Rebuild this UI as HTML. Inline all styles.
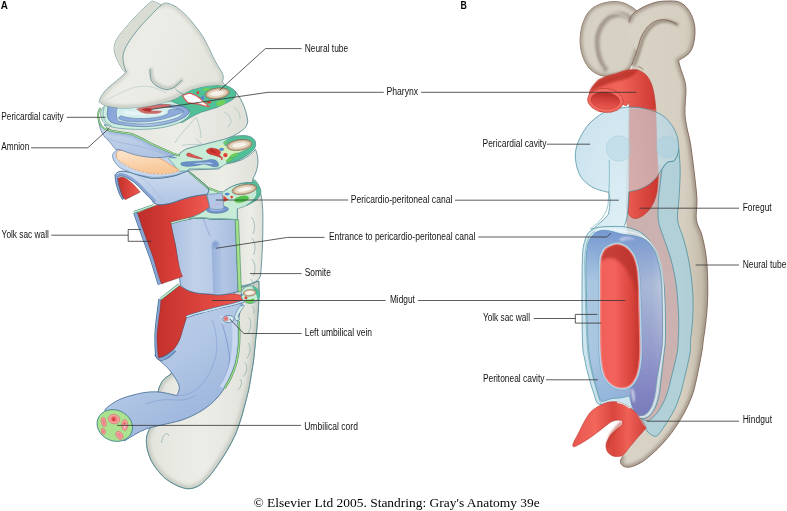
<!DOCTYPE html>
<html>
<head>
<meta charset="utf-8">
<title>Figure</title>
<style>
html,body{margin:0;padding:0;background:#fff;}
body{width:787px;height:511px;overflow:hidden;font-family:"Liberation Sans",sans-serif;}
svg{display:block;}
.lb{font-family:"Liberation Sans",sans-serif;font-size:10px;fill:#111;}
.ld{stroke:#333;stroke-width:0.8;fill:none;}
.cap{font-family:"Liberation Serif",serif;font-size:13.4px;fill:#000;}
.hd{font-family:"Liberation Sans",sans-serif;font-weight:bold;font-size:11.6px;fill:#000;}
</style>
</head>
<body>
<svg width="787" height="511" viewBox="0 0 787 511">
<defs>

<linearGradient id="gBody" x1="0" y1="0" x2="1" y2="0">
  <stop offset="0" stop-color="#d9d3c7"/><stop offset="0.72" stop-color="#d6cfc1"/><stop offset="1" stop-color="#c0b6a4"/>
</linearGradient>
<radialGradient id="gLobe" cx="0.55" cy="0.45" r="0.6">
  <stop offset="0" stop-color="#d3ccbf"/><stop offset="0.7" stop-color="#cdc6b8"/><stop offset="1" stop-color="#b4ab9c"/>
</radialGradient>
<linearGradient id="gRedB" x1="0" y1="0" x2="1" y2="0">
  <stop offset="0" stop-color="#e85a50"/><stop offset="0.45" stop-color="#f2645a"/><stop offset="1" stop-color="#c9362f"/>
</linearGradient>
<linearGradient id="gRedMid" x1="0" y1="0" x2="1" y2="0">
  <stop offset="0" stop-color="#f0605a"/><stop offset="0.35" stop-color="#f4625c"/><stop offset="0.8" stop-color="#d8443c"/><stop offset="1" stop-color="#c0342e"/>
</linearGradient>
<linearGradient id="gPurple" gradientUnits="userSpaceOnUse" x1="585" y1="0" x2="663" y2="0">
  <stop offset="0" stop-color="#abc8e2"/><stop offset="0.36" stop-color="#a5c1de"/><stop offset="0.62" stop-color="#a3b3d6"/><stop offset="0.85" stop-color="#a8b7d6"/><stop offset="1" stop-color="#bcc6de"/>
</linearGradient>
<linearGradient id="gPurpleV" gradientUnits="userSpaceOnUse" x1="0" y1="231" x2="0" y2="416">
  <stop offset="0" stop-color="#6f92cf" stop-opacity="0.85"/><stop offset="0.28" stop-color="#6f97d0" stop-opacity="0"/><stop offset="1" stop-color="#6f97d0" stop-opacity="0"/>
</linearGradient>
<linearGradient id="gPurpleD" gradientUnits="userSpaceOnUse" x1="0" y1="290" x2="0" y2="412">
  <stop offset="0" stop-color="#8486c2" stop-opacity="0"/><stop offset="0.4" stop-color="#8486c2" stop-opacity="0.45"/><stop offset="0.8" stop-color="#8284c2" stop-opacity="0.95"/><stop offset="1" stop-color="#7a7cbb" stop-opacity="1"/>
</linearGradient>
<linearGradient id="gBlueBL" gradientUnits="userSpaceOnUse" x1="0" y1="355" x2="0" y2="403">
  <stop offset="0" stop-color="#7fa6d6" stop-opacity="0"/><stop offset="1" stop-color="#7fa6d6" stop-opacity="0.5"/>
</linearGradient>
<clipPath id="clipPR"><path d="M630,225 L675,225 L675,425 L630,425 C631.5,415 631.5,405 630,396 Z"/></clipPath>
<clipPath id="clipPL"><rect x="580" y="350" width="50.5" height="60"/></clipPath>
<radialGradient id="gPeri" cx="0.45" cy="0.45" r="0.6">
  <stop offset="0" stop-color="#d6ebf3"/><stop offset="1" stop-color="#b7d7e6"/>
</radialGradient>

<linearGradient id="gA_body" x1="0" y1="0" x2="1" y2="0">
  <stop offset="0" stop-color="#e3e5dd"/><stop offset="0.5" stop-color="#ecede7"/><stop offset="1" stop-color="#dfe1d9"/>
</linearGradient>
<linearGradient id="gA_red" x1="0" y1="0" x2="1" y2="0">
  <stop offset="0" stop-color="#bd2d29"/><stop offset="0.5" stop-color="#d83e37"/><stop offset="1" stop-color="#ee5d53"/>
</linearGradient>
<linearGradient id="gA_red2" x1="0" y1="0" x2="1" y2="0">
  <stop offset="0" stop-color="#c4302c"/><stop offset="0.6" stop-color="#e04840"/><stop offset="1" stop-color="#ee5a52"/>
</linearGradient>
<linearGradient id="gA_blue" x1="0" y1="0" x2="1" y2="0">
  <stop offset="0" stop-color="#a9bfe0"/><stop offset="0.35" stop-color="#c1d1ea"/><stop offset="0.7" stop-color="#b6c9e6"/><stop offset="1" stop-color="#a6bcde"/>
</linearGradient>
<linearGradient id="gA_tube" x1="0" y1="0" x2="0.6" y2="1">
  <stop offset="0" stop-color="#c1d2ea"/><stop offset="0.55" stop-color="#b1c6e5"/><stop offset="1" stop-color="#98b2da"/>
</linearGradient>

<linearGradient id="gA_lblue" x1="0" y1="0" x2="0" y2="1">
  <stop offset="0" stop-color="#ccdbee"/><stop offset="1" stop-color="#afc4e3"/>
</linearGradient>
<linearGradient id="gA_peach" x1="0" y1="0" x2="0.3" y2="1">
  <stop offset="0" stop-color="#fde6cf"/><stop offset="1" stop-color="#f8c796"/>
</linearGradient>
<linearGradient id="gA_head" x1="0" y1="0" x2="1" y2="0.4">
  <stop offset="0" stop-color="#e2e4dc"/><stop offset="0.45" stop-color="#ecede7"/><stop offset="1" stop-color="#e4e6de"/>
</linearGradient>
<linearGradient id="gA_ring" x1="0" y1="0" x2="1" y2="0">
  <stop offset="0" stop-color="#86a3d8"/><stop offset="0.5" stop-color="#b4c7ea"/><stop offset="1" stop-color="#8aa6da"/>
</linearGradient>
<linearGradient id="gPink" gradientUnits="userSpaceOnUse" x1="660" y1="0" x2="680" y2="0">
<stop offset="0" stop-color="#d2c0bc"/><stop offset="0.5" stop-color="#c9acae"/><stop offset="1" stop-color="#c2a2a8"/></linearGradient>
<linearGradient id="gSlot" x1="0" y1="0" x2="1" y2="0"><stop offset="0" stop-color="#86a3d4"/><stop offset="0.5" stop-color="#9ab3dc"/><stop offset="1" stop-color="#adc2e4"/></linearGradient>
<!--DEFS-->
</defs>
<rect width="787" height="511" fill="#ffffff"/>


<g id="figA">
<!-- a. tail block -->
<path d="M258.8,281 C259,288 259.2,298 258.4,308 C257.6,320 256.9,329 256,336 C255.6,340.0 254.3,353.8 253.6,360.0 C252.8,366.2 252.3,368.5 251.5,373.2 C250.7,377.9 249.9,383.6 249.0,388.0 C248.1,392.4 247.4,394.8 246.2,399.6 C244.9,404.4 243.3,411.3 241.5,417.0 C239.7,422.7 238.0,428.4 235.6,434.0 C233.2,439.6 230.1,445.2 227.0,450.5 C223.9,455.8 220.1,461.4 217.2,465.7 C214.3,469.9 212.2,472.9 209.5,476.0 C206.8,479.1 203.9,482.1 201.3,484.1 C198.7,486.1 196.4,487.1 194.0,487.8 C191.6,488.6 189.5,488.9 186.8,488.6 C184.1,488.3 180.6,487.1 178.0,486.0 C175.4,484.9 173.3,483.7 171.0,482.3 C168.7,480.9 166.6,479.6 164.3,477.5 C162.0,475.4 159.2,472.4 157.0,469.5 C154.8,466.6 152.7,463.6 151.1,460.4 C149.5,457.1 148.3,453.5 147.5,450.0 C146.7,446.5 146.2,442.4 146.4,439.2 C146.6,436.0 147.7,433.0 148.5,431.0 C149.3,429.0 150.6,427.7 151.0,427.0 C154,415 156,400 159,388 C162,380 166,377 170,375 L215,310 L240,288 Z" fill="url(#gA_body)" stroke="#4b838b" stroke-width="0.8"/>
<clipPath id="clipTail"><path d="M258.8,281 C259,288 259.2,298 258.4,308 C257.6,320 256.9,329 256,336 C255.6,340.0 254.3,353.8 253.6,360.0 C252.8,366.2 252.3,368.5 251.5,373.2 C250.7,377.9 249.9,383.6 249.0,388.0 C248.1,392.4 247.4,394.8 246.2,399.6 C244.9,404.4 243.3,411.3 241.5,417.0 C239.7,422.7 238.0,428.4 235.6,434.0 C233.2,439.6 230.1,445.2 227.0,450.5 C223.9,455.8 220.1,461.4 217.2,465.7 C214.3,469.9 212.2,472.9 209.5,476.0 C206.8,479.1 203.9,482.1 201.3,484.1 C198.7,486.1 196.4,487.1 194.0,487.8 C191.6,488.6 189.5,488.9 186.8,488.6 C184.1,488.3 180.6,487.1 178.0,486.0 C175.4,484.9 173.3,483.7 171.0,482.3 C168.7,480.9 166.6,479.6 164.3,477.5 C162.0,475.4 159.2,472.4 157.0,469.5 C154.8,466.6 152.7,463.6 151.1,460.4 C149.5,457.1 148.3,453.5 147.5,450.0 C146.7,446.5 146.2,442.4 146.4,439.2 C146.6,436.0 147.7,433.0 148.5,431.0 C149.3,429.0 150.6,427.7 151.0,427.0 C154,415 156,400 159,388 C162,380 166,377 170,375 L215,310 L240,288 Z"/></clipPath>
<g clip-path="url(#clipTail)"><path d="M258.8,281 C259,288 259.2,298 258.4,308 C257.6,320 256.9,329 256,336 C255.6,340.0 254.3,353.8 253.6,360.0 C252.8,366.2 252.3,368.5 251.5,373.2 C250.7,377.9 249.9,383.6 249.0,388.0 C248.1,392.4 247.4,394.8 246.2,399.6 C244.9,404.4 243.3,411.3 241.5,417.0 C239.7,422.7 238.0,428.4 235.6,434.0 C233.2,439.6 230.1,445.2 227.0,450.5 C223.9,455.8 220.1,461.4 217.2,465.7 C214.3,469.9 212.2,472.9 209.5,476.0 C206.8,479.1 203.9,482.1 201.3,484.1 C198.7,486.1 196.4,487.1 194.0,487.8 C191.6,488.6 189.5,488.9 186.8,488.6 C184.1,488.3 180.6,487.1 178.0,486.0 C175.4,484.9 173.3,483.7 171.0,482.3 C168.7,480.9 166.6,479.6 164.3,477.5 C162.0,475.4 159.2,472.4 157.0,469.5 C154.8,466.6 152.7,463.6 151.1,460.4 C149.5,457.1 148.3,453.5 147.5,450.0 C146.7,446.5 146.2,442.4 146.4,439.2 C146.6,436.0 147.7,433.0 148.5,431.0 C149.3,429.0 150.6,427.7 151.0,427.0 C154,415 156,400 159,388 C162,380 166,377 170,375 L215,310 L240,288 Z" fill="none" stroke="#c4c9bf" stroke-width="7" filter="url(#blur2)" opacity="0.85"/></g>
<path d="M258.8,281 C259,288 259.2,298 258.4,308 C257.6,320 256.9,329 256,336 C255.6,340.0 254.3,353.8 253.6,360.0 C252.8,366.2 252.3,368.5 251.5,373.2 C250.7,377.9 249.9,383.6 249.0,388.0 C248.1,392.4 247.4,394.8 246.2,399.6 C244.9,404.4 243.3,411.3 241.5,417.0 C239.7,422.7 238.0,428.4 235.6,434.0 C233.2,439.6 230.1,445.2 227.0,450.5 C223.9,455.8 220.1,461.4 217.2,465.7 C214.3,469.9 212.2,472.9 209.5,476.0 C206.8,479.1 203.9,482.1 201.3,484.1 C198.7,486.1 196.4,487.1 194.0,487.8 C191.6,488.6 189.5,488.9 186.8,488.6 C184.1,488.3 180.6,487.1 178.0,486.0 C175.4,484.9 173.3,483.7 171.0,482.3 C168.7,480.9 166.6,479.6 164.3,477.5 C162.0,475.4 159.2,472.4 157.0,469.5 C154.8,466.6 152.7,463.6 151.1,460.4 C149.5,457.1 148.3,453.5 147.5,450.0 C146.7,446.5 146.2,442.4 146.4,439.2 C146.6,436.0 147.7,433.0 148.5,431.0 C149.3,429.0 150.6,427.7 151.0,427.0 C154,415 156,400 159,388 C162,380 166,377 170,375 L215,310 L240,288 Z" fill="none" stroke="#4b838b" stroke-width="0.8"/>
<!-- somite marks lower -->
<g fill="none" stroke="#7aa5a5" stroke-width="0.6">
<path d="M248.7,317.4 C251.5,320 251.8,328 248,333"/><path d="M248,342.8 C251,345.5 251,353.5 246.7,358.5"/><path d="M244.8,362.4 C247.8,365 247.5,372.5 242.8,376.9"/><path d="M240,379.2 C242.6,381.5 242,386.5 237.7,389.8"/><path d="M252.2,306 C254,308 254.5,311 253.5,313.5"/>
<path d="M161.5,443 C162,438 163.5,435 166,433.5 C167.5,433.5 168.5,434.5 168.7,436"/>
</g>
<!-- b. lower blue tube -->
<path d="M186.5,317 L242,301.5 L238,322 C240,335 239,350 236,362 C232,375 226,388 217,398 C208,408 196,415 182,420 C168,424 155,426 146,429 C138,432 131,437 124.2,441 L104.7,409.8 C112,402.5 121,398 131,395.6 C140,393 148,391.5 156,391.8 C163,392 170,394 176.7,395.6 C179,392 180,388 179,385.4 C177,380 174,376 171,372 C168,368 166,366 163.6,364 C160,361 157,358 154.7,355 L158.5,358 C165,356 170,352 173.8,349 C178,344 180,339 181.4,333.8 C183,328 185,322 186.5,317 Z" fill="url(#gA_tube)" stroke="#3f6a92" stroke-width="0.8"/>
<path d="M222,323.6 C225,332 228,345 229.5,356 C230,366 226,377 220,386" fill="none" stroke="#6f8fc8" stroke-width="0.7"/>
<path d="M219.6,314.7 C221,318 222,321 222,323.6 L238,322 Z" fill="#c9d8ef" opacity="0.8"/>
<path d="M176.7,395.6 C185,396 192,393 198,388 C207,380 213,368 216,355 C218,343 216,330 212,320" fill="none" stroke="#7d9bd0" stroke-width="0.7" opacity="0.8"/>
<path d="M146,404 C156,400 166,399 176,400 C184,400.5 190,399 196,395" fill="none" stroke="#6f8fc8" stroke-width="0.6" opacity="0.8"/>
<path d="M236.5,322 C238,336 237.5,351 234,364 C231,374 227,382 222.7,388 L219.5,386 C224,380 227.5,372 230,362 C232.5,350 233,336 232,323 Z" fill="#cfdcf2" opacity="0.85"/>
<!-- green amnion line along tube right -->
<path d="M238.7,321 C240,336 239.5,351 236,364 C233,374 229,382 224.7,388" fill="none" stroke="#3f8a5c" stroke-width="2.2"/>
<path d="M238.7,321 C240,336 239.5,351 236,364 C233,374 229,382 224.7,388" fill="none" stroke="#a6e08e" stroke-width="1.2"/>
<!-- cord end -->
<ellipse cx="114.8" cy="425.5" rx="18.2" ry="15.4" transform="rotate(24 114.8 425.5)" fill="#aae290" stroke="#3d7f8f" stroke-width="0.8"/>
<g stroke="#d4555a" stroke-width="0.45" fill="#f4a3a3">
<ellipse cx="114" cy="419.1" rx="5.9" ry="4.7" transform="rotate(8 114 419.1)"/>
<ellipse cx="114" cy="419.1" rx="3.6" ry="3" fill="#ec7c7e" stroke="none"/>
<ellipse cx="113.6" cy="419.2" rx="1.6" ry="1.9" fill="#e03a3c" stroke="none"/>
<ellipse cx="103.7" cy="422" rx="2.3" ry="4.8" transform="rotate(-12 103.7 422)"/>
<ellipse cx="103.7" cy="422" rx="1.1" ry="3" transform="rotate(-12 103.7 422)" fill="#e98083" stroke="none"/>
<ellipse cx="103.3" cy="431.3" rx="2" ry="3.1" transform="rotate(-15 103.3 431.3)"/>
<ellipse cx="103.3" cy="431.3" rx="0.9" ry="1.8" transform="rotate(-15 103.3 431.3)" fill="#e98083" stroke="none"/>
<ellipse cx="124.7" cy="425" rx="3.1" ry="5.5"/>
<ellipse cx="124.7" cy="425.2" rx="1.6" ry="3.6" fill="#f8c4c4" stroke="#d4555a" stroke-width="0.35"/>
<ellipse cx="124.6" cy="423.6" rx="0.9" ry="1.3" fill="#de4a4e" stroke="none"/>
<ellipse cx="119.4" cy="435.2" rx="3" ry="4.4" transform="rotate(-32 119.4 435.2)"/>
<ellipse cx="119.4" cy="435.2" rx="1.5" ry="2.7" transform="rotate(-32 119.4 435.2)" fill="#ec8a8c" stroke="none"/>
</g>
<!-- blue rim left of red midgut -->
<path d="M160.3,299.2 C159,311 156.6,324 156.4,336 C156.3,345 156.6,351 157.3,356 C158.5,358.5 161,359.3 164,358.2 C168,356.5 171.5,353.5 174.5,350" fill="none" stroke="#3f6a92" stroke-width="4"/>
<path d="M160.3,299.2 C159,311 156.6,324 156.4,336 C156.3,345 156.6,351 157.3,356 C158.5,358.5 161,359.3 164,358.2 C168,356.5 171.5,353.5 174.5,350" fill="none" stroke="#86a5d2" stroke-width="2.6"/>
<!-- red midgut -->
<path d="M161,299.4 L179,285.4 C188,291 198,294 209,294 C222,294 233,293 242.5,295.6 L245,300.7 C238,303 232,304.5 227,305.8 C218,308 209,310 201.8,312 C196,313.5 190,315 186.5,317 C185,322 183,328 181.4,333.8 C180,339 178,344 173.8,349 C170,352 165,356 158.5,358 C157.5,351 157,343 157,336 C157.5,327 159,318 160,311 Z" fill="url(#gA_red2)" stroke="#8a2a28" stroke-width="0.5"/>
<path d="M245,300.7 C238,303 232,304.5 227,305.8 C218,308 209,310 201.8,312 C196,313.5 190,315 186.5,317" fill="none" stroke="#3f6a92" stroke-width="2.6"/>
<path d="M245,300.7 C238,303 232,304.5 227,305.8 C218,308 209,310 201.8,312 C196,313.5 190,315 186.5,317" fill="none" stroke="#cfe3ee" stroke-width="1.6"/>
<!-- pale green band top-left edge of red midgut -->
<path d="M160.3,299.2 L179,284.6" fill="none" stroke="#3f8a6a" stroke-width="2.6"/>
<path d="M160.3,299.2 L179,284.6" fill="none" stroke="#c6ecd8" stroke-width="1.6"/>


<!-- c. section 4 top -->
<path d="M240.3,303.6 C242,303.4 243.6,304.4 244.2,306 C242.2,309 239.8,312.5 237.8,316 C238.8,317.4 239.4,318.7 239.5,319.8 L236,320.6 C235,319.2 234.5,317.6 234.6,316.4 C236,312.5 238,308.5 240.3,306.2 Z" fill="#d2eae8" stroke="#3f6a92" stroke-width="0.5"/>
<ellipse cx="228.4" cy="319" rx="5.8" ry="3.6" transform="rotate(-4 228.4 319)" fill="#cfe4ee" stroke="#3f6a92" stroke-width="0.6"/>
<circle cx="226" cy="318.7" r="2.2" fill="#f0a0a2" stroke="#c8474a" stroke-width="0.45"/><circle cx="226" cy="318.7" r="0.9" fill="#d8403e"/>
<ellipse cx="242.1" cy="305.2" rx="1.2" ry="0.8" transform="rotate(-40 242.1 305.2)" fill="#5a7fd0"/>
<ellipse cx="250.2" cy="294.6" rx="9.3" ry="8.8" fill="#c9edd6" stroke="#4b838b" stroke-width="0.7"/>
<path d="M252,286.2 C256,286.8 258.8,289.5 259.4,293.5 C259.6,296 259,298.5 257.8,300.3 C257,297 256.3,294 254.8,291.5 C254,289.5 253,287.6 252,286.2 Z" fill="#4fc098"/>
<path d="M246,299.4 C248.5,300.4 251.5,300 253.6,298.6 C254.6,300 254.3,301.8 252.6,302.8 C250,303.8 247.2,303.4 245.8,302 C245.3,301 245.4,300 246,299.4 Z" fill="#6fd05a" stroke="#3f9a4a" stroke-width="0.3"/>
<circle cx="245.9" cy="297.8" r="1.5" fill="#e0403a"/><ellipse cx="241.8" cy="294.9" rx="0.9" ry="1.3" fill="#5a7fd0"/>
<g transform="rotate(-6 249.7 292.8)"><ellipse cx="249.7" cy="292.8" rx="6.5" ry="3.3" fill="#c9ae92" stroke="#7d5e48" stroke-width="0.5"/><ellipse cx="249.7" cy="292.8" rx="5.1" ry="2.3" fill="#e7d8c4"/><ellipse cx="249.7" cy="292.8" rx="3.8" ry="1.5" fill="#f6f1e9"/></g>

<!-- d. slice 3 side -->
<path d="M237.6,221 L237.2,207 C242,206 247,204 251,201.8 C255.5,199.6 259,197 260.5,193 C261.8,198 262.6,205 262.9,215 C263,235 262.3,252 261.6,262 C261.2,268 260.8,272 260.4,276 C259,279 257.5,280.5 255.6,281.5 C253,283 250.5,284 248,284.7 C245.5,285.2 243.5,285.5 241.6,285.8 L240.3,288.8 Z" fill="url(#gA_body)" stroke="#4b838b" stroke-width="0.8"/>
<g fill="none" stroke="#7aa5a5" stroke-width="0.6">
<path d="M251,217 C255,220 255.5,228 253,234"/><path d="M251.5,238 C255.5,241 256,249 253.5,255"/>
<path d="M251.5,259 C255.5,262 256,270 253.5,276"/><path d="M250.5,279 C254,282 254.5,287 252.5,291"/>
</g>
<path d="M170.6,223.7 C172.2,223.2 176.9,221.8 180.0,221.0 C183.1,220.2 186.6,219.5 189.3,219.0 C192.0,218.5 193.7,218.4 196.0,218.2 C198.3,218.0 200.8,217.8 203.4,217.9 C206.0,218.0 208.5,218.8 211.6,219.0 C214.7,219.2 218.2,218.9 222.2,219.0 C226.2,219.1 233.3,219.5 235.5,219.6 C235.9,231.6 237.8,279.5 238.2,291.5 C236.5,291.9 231.4,293.4 228.0,294.0 C224.6,294.6 221.2,295.0 218.0,295.0 C214.8,295.0 212.3,294.3 209.0,294.0 C205.7,293.7 201.5,293.8 198.0,293.2 C194.5,292.6 190.9,291.8 188.0,290.5 C185.1,289.2 181.8,286.2 180.5,285.4 C180.2,283.2 179.5,276.6 179.0,272.0 C178.5,267.4 177.9,262.5 177.3,258.0 C176.7,253.5 176.0,248.8 175.3,244.9 C174.6,241.0 173.7,237.8 172.9,234.3 C172.1,230.8 171.0,225.5 170.6,223.7 Z" fill="url(#gA_blue)" stroke="#3f6a92" stroke-width="0.8"/>
<!-- entrance slot -->
<path d="M211.6,247 C211.6,243 213.6,241 216.2,241 C219,241 220.8,243 221,247 L222.6,292.8 L213.2,293.8 Z" fill="url(#gSlot)" opacity="0.65"/>
<ellipse cx="215.6" cy="244.5" rx="2.6" ry="3.4" fill="#6f8ec8" opacity="0.55" filter="url(#blur1)"/>
<path d="M203.4,218 C205,224 207.5,230 210,236" fill="none" stroke="#7d9bd0" stroke-width="0.6"/>
<!-- green strip right of blue block -->
<path d="M235.2,219.6 L238.6,219.8 L241.4,291 L238.2,292 Z" fill="#a6e08e" stroke="#3f8a5c" stroke-width="0.6"/>
<!-- pale green band on top edge of blue block -->
<path d="M170.2,222.9 C171.8,222.4 176.8,221.0 180.0,220.2 C183.2,219.4 186.6,218.7 189.3,218.2 C192.0,217.7 193.7,217.6 196.0,217.4 C198.3,217.2 200.8,217.0 203.4,217.1 C206.0,217.2 208.5,218.0 211.6,218.2 C214.7,218.4 218.0,218.1 222.2,218.2 C226.3,218.3 234.1,218.7 236.5,218.8" fill="none" stroke="#3f8a6a" stroke-width="2.6"/>
<path d="M170.2,222.9 C171.8,222.4 176.8,221.0 180.0,220.2 C183.2,219.4 186.6,218.7 189.3,218.2 C192.0,217.7 193.7,217.6 196.0,217.4 C198.3,217.2 200.8,217.0 203.4,217.1 C206.0,217.2 208.5,218.0 211.6,218.2 C214.7,218.4 218.0,218.1 222.2,218.2 C226.3,218.3 234.1,218.7 236.5,218.8" fill="none" stroke="#c6ecd8" stroke-width="1.6"/>
<!-- red yolk wall with blue rim -->
<path d="M135.4,212.6 C136.5,215.6 139.7,224.7 141.8,230.6 C143.9,236.5 146.4,242.9 148.2,248.0 C150.0,253.1 151.4,256.8 152.8,261.0 C154.2,265.2 155.3,269.1 156.5,273.0 C157.7,276.9 159.4,282.3 160.0,284.2" fill="none" stroke="#3f6a92" stroke-width="4.6"/>
<path d="M135.4,212.6 C136.5,215.6 139.7,224.7 141.8,230.6 C143.9,236.5 146.4,242.9 148.2,248.0 C150.0,253.1 151.4,256.8 152.8,261.0 C154.2,265.2 155.3,269.1 156.5,273.0 C157.7,276.9 159.4,282.3 160.0,284.2" fill="none" stroke="#86a5d2" stroke-width="3.4"/>
<path d="M137.6,212.9 C140.2,211.8 150.8,207.3 153.5,206.2 C154.6,205.9 157.0,205.0 160.0,204.4 C163.0,203.8 167.8,203.6 171.7,202.6 C175.6,201.6 179.6,199.7 183.5,198.5 C187.4,197.3 191.5,196.4 195.2,195.6 C198.9,194.8 204.0,194.1 205.8,193.8 C206.2,194.9 207.4,198.2 208.1,200.3 C208.8,202.5 209.6,205.6 209.9,206.7 C209.0,207.4 206.5,209.5 204.6,210.8 C202.7,212.1 201.2,213.2 198.7,214.3 C196.1,215.4 192.8,216.3 189.3,217.3 C185.8,218.3 180.7,219.4 177.6,220.2 C174.5,221.0 171.8,221.7 170.6,222.0 C171.0,224.1 172.1,230.5 172.9,234.3 C173.7,238.1 174.5,241.0 175.3,244.9 C176.1,248.8 176.7,253.8 177.5,258.0 C178.3,262.2 179.2,266.9 180.0,270.0 C180.8,273.1 182.1,275.4 182.5,276.5 C179.0,277.7 165.0,282.6 161.5,283.8 C160.8,281.8 158.7,276.0 157.5,272.0 C156.3,268.0 155.4,264.2 154.1,260.0 C152.8,255.8 151.2,251.9 149.4,247.0 C147.6,242.1 145.5,236.3 143.5,230.6 C141.5,224.9 138.6,215.8 137.6,212.9 Z" fill="url(#gA_red)" stroke="#8a2a28" stroke-width="0.5"/>
<path d="M134,212.2 L153.6,205.4" fill="none" stroke="#3f8a6a" stroke-width="2.4"/>
<path d="M134,212.2 L153.6,205.4" fill="none" stroke="#c6ecd8" stroke-width="1.4"/>

<!-- e. section 3 top -->
<path d="M198.7,214.3 C199.7,213.7 202.7,212.1 204.6,210.8 C206.5,209.5 209.0,207.4 209.9,206.7 C209.4,203.9 204.7,193.4 207.0,190.0 C209.3,186.6 220.8,186.7 223.5,186.0 C224.2,185.5 226.5,183.8 228.0,183.0 C229.5,182.2 230.7,181.7 232.7,181.0 C234.7,180.3 237.3,179.4 240.0,179.0 C242.7,178.6 246.2,178.3 248.7,178.5 C251.2,178.7 253.3,178.8 255.0,180.0 C256.7,181.2 258.0,184.2 259.0,186.0 C260.0,187.8 260.6,189.2 260.8,190.5 C261.1,191.8 261.1,192.5 260.5,194.0 C259.9,195.5 258.6,198.0 257.0,199.5 C255.4,201.0 253.2,202.0 251.0,203.2 C248.8,204.4 246.3,205.6 244.0,206.5 C241.7,207.4 238.3,208.5 237.2,208.9 C237.2,210.7 237.3,217.8 237.3,219.6 C234.8,219.4 226.5,218.8 222.2,218.6 C217.9,218.4 214.7,218.8 211.6,218.6 C208.5,218.4 206.0,217.6 203.4,217.5 C200.8,217.4 198.3,217.6 196.0,217.8 C193.7,218.0 190.4,218.5 189.3,218.6 C190.9,217.9 197.1,215.0 198.7,214.3 Z" fill="#c6ecd8" stroke="#4b838b" stroke-width="0.6"/>
<path d="M224.5,187.4 C227,185 229.5,183.3 232.7,181.8 C238,179.7 244,178.8 248.7,179 C254,180 257.5,182.3 258.8,186 C260.6,188.6 261,191.5 260.2,194 C258.8,198 255.5,201 251,203.2 C249.5,204 248,204.7 246.5,205.3 C251,202.5 254.8,199 256.3,195.5 C257.2,192.5 256.6,189.5 254.8,187.3 C251.5,184.6 247,183.6 242.5,183.8 C236,184.4 230,186.5 226,189.8 C225,189.2 224.5,188.3 224.5,187.4 Z" fill="#4fc098" stroke="#4b838b" stroke-width="0.45"/>
<ellipse cx="241.8" cy="199.3" rx="9" ry="4" transform="rotate(-14 241.8 199.3)" fill="#bfeab0" opacity="0.8"/><ellipse cx="241.6" cy="199.2" rx="7" ry="2.8" transform="rotate(-12 241.6 199.2)" fill="#4fc84a" stroke="#2f8a3a" stroke-width="0.4"/>
<g transform="rotate(-10 244.3 189.4)"><ellipse cx="244.3" cy="189.4" rx="12.4" ry="4.9" fill="#c9ae92" stroke="#7d5e48" stroke-width="0.6"/><ellipse cx="244.3" cy="189.4" rx="10" ry="3.6" fill="#e7d8c4"/><ellipse cx="244.3" cy="189.4" rx="7.7" ry="2.5" fill="#f6f1e9" stroke="#c4ab8e" stroke-width="0.35"/></g>
<path d="M223.3,195.2 L228.6,199.7 L223.4,202 Z" fill="#e0403a"/>
<ellipse cx="227.1" cy="194.1" rx="2.5" ry="1.4" fill="#5a86d0"/><circle cx="231.7" cy="197.1" r="1.3" fill="#e0403a"/>
<!-- ring + canal tube -->
<ellipse cx="217.5" cy="209.6" rx="11" ry="3.6" transform="rotate(-3 217.5 209.6)" fill="#7593cf" stroke="#3f6a92" stroke-width="0.5"/>
<ellipse cx="217" cy="208.6" rx="7.4" ry="2.2" transform="rotate(-3 217 208.6)" fill="#b9cbea"/>
<path d="M207,194.4 L222.2,193.2 L224,208.3 C221,209.8 213,210 209.9,208.6 Z" fill="#b3c7e8" stroke="#3f6a92" stroke-width="0.5"/>
<path d="M210.5,207.5 C214,204.5 219,203.4 224,203.8" fill="none" stroke="#d9a0a8" stroke-width="0.5" opacity="0.8"/>

<!-- f. slice 2 side -->
<!-- grey block -->
<path d="M186.9,170 L218.9,168.9 L223.5,164.3 C230,163.5 236,162 241.8,159.7 C247,157 252,154 255.5,149.4 C257.5,154 258.3,159 257.8,164.3 C257,170 255.5,174.5 253.2,178 C252.5,180 252.5,181.5 252.8,182.6 C247,182 241,183 236,184.8 C230,187 226,189.5 223.5,191.8 L218.9,191.8 L207.5,187.2 L189.2,171.8 Z" fill="url(#gA_body)" stroke="#4b838b" stroke-width="0.8"/>
<!-- light blue surface of slice 2 -->
<path d="M115.0,174.9 C115.4,174.5 116.3,173.2 117.2,172.6 C118.1,172.0 119.2,171.6 120.3,171.4 C121.4,171.2 122.6,171.2 124.0,171.3 C125.4,171.4 126.8,171.6 128.5,172.0 C130.2,172.4 132.1,173.0 134.0,173.6 C135.9,174.2 138.2,174.9 140.2,175.5 C142.2,176.1 144.0,176.7 146.0,177.2 C148.0,177.7 151.0,178.3 152.0,178.5 C153.3,178.4 157.7,178.4 160.0,178.2 C162.3,178.0 164.0,177.8 166.0,177.5 C168.0,177.2 170.0,176.8 172.0,176.4 C174.0,176.0 175.3,175.7 177.8,174.8 C180.3,173.9 185.0,171.7 186.9,171.2 C188.8,170.7 188.8,171.7 189.2,171.8 C192.2,174.4 204.5,183.4 207.5,187.2 C210.5,191.0 207.3,193.2 207.3,194.4 C205.3,194.7 199.2,195.2 195.2,196.0 C191.2,196.8 187.4,197.7 183.5,198.9 C179.6,200.1 175.6,202.0 171.7,203.0 C167.8,204.0 163.0,204.8 160.0,204.8 C157.0,204.8 154.8,203.4 153.7,203.1 C153.4,202.6 152.9,201.3 152.0,200.2 C151.1,199.1 149.7,197.8 148.5,196.6 C147.3,195.4 146.1,194.3 144.9,193.1 C143.7,191.9 142.7,190.6 141.5,189.3 C140.3,188.0 139.3,186.8 137.9,185.5 C136.5,184.2 134.8,182.8 133.2,181.6 C131.6,180.4 129.9,179.3 128.5,178.5 C127.0,177.7 125.7,177.0 124.5,176.6 C123.3,176.2 122.3,175.9 121.4,175.8 C120.5,175.7 119.7,175.9 119.0,176.2 C118.3,176.4 117.6,177.1 117.3,177.3 C117.6,178.8 118.2,182.8 119.1,186.0 C120.0,189.2 121.8,194.6 122.6,196.6 C123.4,198.6 123.8,197.9 124.0,198.2 C123.8,198.4 122.8,199.4 122.6,199.6 C122.0,198.5 120.2,195.8 119.1,193.1 C118.0,190.4 116.9,186.7 116.2,183.7 C115.5,180.7 115.2,176.4 115.0,174.9 Z" fill="url(#gA_lblue)" stroke="#3f6a92" stroke-width="0.6"/>
<clipPath id="clipP"><path d="M115.0,174.9 C115.4,174.5 116.3,173.2 117.2,172.6 C118.1,172.0 119.2,171.6 120.3,171.4 C121.4,171.2 122.6,171.2 124.0,171.3 C125.4,171.4 126.8,171.6 128.5,172.0 C130.2,172.4 132.1,173.0 134.0,173.6 C135.9,174.2 138.2,174.9 140.2,175.5 C142.2,176.1 144.0,176.7 146.0,177.2 C148.0,177.7 151.0,178.3 152.0,178.5 C153.3,178.4 157.7,178.4 160.0,178.2 C162.3,178.0 164.0,177.8 166.0,177.5 C168.0,177.2 170.0,176.8 172.0,176.4 C174.0,176.0 175.3,175.7 177.8,174.8 C180.3,173.9 185.0,171.7 186.9,171.2 C188.8,170.7 188.8,171.7 189.2,171.8 C192.2,174.4 204.5,183.4 207.5,187.2 C210.5,191.0 207.3,193.2 207.3,194.4 C205.3,194.7 199.2,195.2 195.2,196.0 C191.2,196.8 187.4,197.7 183.5,198.9 C179.6,200.1 175.6,202.0 171.7,203.0 C167.8,204.0 163.0,204.8 160.0,204.8 C157.0,204.8 154.8,203.4 153.7,203.1 C153.4,202.6 152.9,201.3 152.0,200.2 C151.1,199.1 149.7,197.8 148.5,196.6 C147.3,195.4 146.1,194.3 144.9,193.1 C143.7,191.9 142.7,190.6 141.5,189.3 C140.3,188.0 139.3,186.8 137.9,185.5 C136.5,184.2 134.8,182.8 133.2,181.6 C131.6,180.4 129.9,179.3 128.5,178.5 C127.0,177.7 125.7,177.0 124.5,176.6 C123.3,176.2 122.3,175.9 121.4,175.8 C120.5,175.7 119.7,175.9 119.0,176.2 C118.3,176.4 117.6,177.1 117.3,177.3 C117.6,178.8 118.2,182.8 119.1,186.0 C120.0,189.2 121.8,194.6 122.6,196.6 C123.4,198.6 123.8,197.9 124.0,198.2 C123.8,198.4 122.8,199.4 122.6,199.6 C122.0,198.5 120.2,195.8 119.1,193.1 C118.0,190.4 116.9,186.7 116.2,183.7 C115.5,180.7 115.2,176.4 115.0,174.9 Z"/></clipPath>
<g clip-path="url(#clipP)">
<path d="M124.0,198.6 C123.5,197.3 122.0,193.4 121.2,191.0 C120.4,188.6 119.5,186.2 118.9,184.0 C118.3,181.8 117.5,179.2 117.6,178.0 C117.6,176.8 118.6,176.9 119.2,176.6 C119.8,176.3 120.5,176.2 121.4,176.3 C122.3,176.4 123.3,176.6 124.5,177.0 C125.7,177.4 127.0,178.1 128.5,179.0 C129.9,179.9 131.6,181.0 133.2,182.2 C134.8,183.4 136.5,184.7 137.9,186.0 C139.3,187.3 140.3,188.5 141.5,189.8 C142.7,191.1 143.7,192.4 144.9,193.6 C146.1,194.8 147.3,195.8 148.5,197.0 C149.7,198.2 151.1,199.7 152.0,200.7 C152.9,201.7 153.4,202.7 153.7,203.1" fill="none" stroke="#8aa6d4" stroke-width="6.4"/>
<path d="M124.0,198.6 C123.5,197.3 122.0,193.4 121.2,191.0 C120.4,188.6 119.5,186.2 118.9,184.0 C118.3,181.8 117.5,179.2 117.6,178.0 C117.6,176.8 118.6,176.9 119.2,176.6 C119.8,176.3 120.5,176.2 121.4,176.3 C122.3,176.4 123.3,176.6 124.5,177.0 C125.7,177.4 127.0,178.1 128.5,179.0 C129.9,179.9 131.6,181.0 133.2,182.2 C134.8,183.4 136.5,184.7 137.9,186.0 C139.3,187.3 140.3,188.5 141.5,189.8 C142.7,191.1 143.7,192.4 144.9,193.6 C146.1,194.8 147.3,195.8 148.5,197.0 C149.7,198.2 151.1,199.7 152.0,200.7 C152.9,201.7 153.4,202.7 153.7,203.1" fill="none" stroke="#3f6a92" stroke-width="6.9" opacity="0.0"/>
<path d="M126,171 C134,173 144,178 150,185 C156,192 160,198 166,203" fill="none" stroke="#9fb6dc" stroke-width="0.6" opacity="0.8"/>
</g>
<!-- green amnion line slice 2 -->
<path d="M189.2,172 L207.5,187.6 L219,192.2" fill="none" stroke="#4a8a66" stroke-width="1.9"/>
<path d="M189.2,172 L207.5,187.6 L219,192.2" fill="none" stroke="#a8e290" stroke-width="1.05"/>
<!-- red interior of upper yolk piece -->
<path d="M117.9,178.5 C118.2,178.3 118.9,177.7 119.5,177.4 C120.1,177.2 120.6,176.9 121.5,177.0 C122.4,177.1 123.8,177.5 125.0,178.0 C126.2,178.5 127.3,179.3 128.5,180.2 C129.7,181.1 130.8,182.1 132.0,183.2 C133.2,184.3 134.5,185.6 135.5,186.7 C136.5,187.8 137.2,188.6 138.0,189.5 C138.8,190.4 139.8,191.6 140.2,192.0 C137.8,193.3 128.0,198.3 125.5,199.6 C125.0,199.1 123.7,198.9 122.6,196.6 C121.5,194.3 119.9,189.0 119.1,186.0 C118.3,183.0 118.1,179.8 117.9,178.5 Z" fill="url(#gA_red2)" stroke="#7a3030" stroke-width="0.5"/>
<path d="M115.0,174.9 C115.4,174.5 116.3,173.2 117.2,172.6 C118.1,172.0 119.2,171.6 120.3,171.4 C121.4,171.2 122.6,171.2 124.0,171.3 C125.4,171.4 126.8,171.6 128.5,172.0 C130.2,172.4 132.1,173.0 134.0,173.6 C135.9,174.2 138.2,174.9 140.2,175.5 C142.2,176.1 144.0,176.7 146.0,177.2 C148.0,177.7 151.0,178.3 152.0,178.5 C153.3,178.4 157.7,178.4 160.0,178.2 C162.3,178.0 164.0,177.8 166.0,177.5 C168.0,177.2 170.0,176.8 172.0,176.4 C174.0,176.0 175.3,175.7 177.8,174.8 C180.3,173.9 185.0,171.7 186.9,171.2 C188.8,170.7 188.8,171.7 189.2,171.8 C192.2,174.4 204.5,183.4 207.5,187.2 C210.5,191.0 207.3,193.2 207.3,194.4 C205.3,194.7 199.2,195.2 195.2,196.0 C191.2,196.8 187.4,197.7 183.5,198.9 C179.6,200.1 175.6,202.0 171.7,203.0 C167.8,204.0 163.0,204.8 160.0,204.8 C157.0,204.8 154.8,203.4 153.7,203.1 C153.4,202.6 152.9,201.3 152.0,200.2 C151.1,199.1 149.7,197.8 148.5,196.6 C147.3,195.4 146.1,194.3 144.9,193.1 C143.7,191.9 142.7,190.6 141.5,189.3 C140.3,188.0 139.3,186.8 137.9,185.5 C136.5,184.2 134.8,182.8 133.2,181.6 C131.6,180.4 129.9,179.3 128.5,178.5 C127.0,177.7 125.7,177.0 124.5,176.6 C123.3,176.2 122.3,175.9 121.4,175.8 C120.5,175.7 119.7,175.9 119.0,176.2 C118.3,176.4 117.6,177.1 117.3,177.3 C117.6,178.8 118.2,182.8 119.1,186.0 C120.0,189.2 121.8,194.6 122.6,196.6 C123.4,198.6 123.8,197.9 124.0,198.2 C123.8,198.4 122.8,199.4 122.6,199.6 C122.0,198.5 120.2,195.8 119.1,193.1 C118.0,190.4 116.9,186.7 116.2,183.7 C115.5,180.7 115.2,176.4 115.0,174.9 Z" fill="none" stroke="#3f6a92" stroke-width="0.6"/>

<!-- g. section 2 top -->
<!-- light-blue rim + ring around peach -->
<path d="M118.5,149.1 C118.2,149.3 117.4,149.8 116.7,150.3 C116.0,150.8 115.1,151.5 114.5,152.0 C113.9,152.5 113.5,152.6 113.2,153.2 C112.9,153.8 112.6,154.7 112.6,155.6 C112.6,156.5 112.7,157.5 113.0,158.5 C113.3,159.5 113.7,160.3 114.4,161.4 C115.1,162.5 116.0,163.7 117.0,164.8 C118.0,165.9 118.6,166.9 120.3,167.9 C122.0,168.9 124.7,170.0 127.0,171.0 C129.3,172.0 131.6,173.0 134.3,173.8 C137.0,174.6 140.1,175.2 143.0,175.8 C145.9,176.4 149.3,177.1 152.0,177.3 C154.7,177.6 156.7,177.4 159.0,177.3 C161.3,177.2 163.8,177.0 166.0,176.7 C168.2,176.4 170.0,176.1 172.0,175.7 C174.0,175.3 176.0,174.8 177.8,174.3 C179.6,173.8 181.5,173.0 183.0,172.5 C184.5,172.0 186.2,171.4 186.9,171.2 C187.3,170.8 186.4,172.4 189.4,168.8 C192.4,165.2 210.1,152.9 205.2,149.4 C200.3,145.9 174.4,148.1 160.0,148.0 C145.6,147.9 125.4,148.9 118.5,149.1 Z" fill="#c3d6ee" stroke="#3f6a92" stroke-width="0.6"/>
<!-- pale green face -->
<path d="M168.6,158.6 C170.2,157.2 171.9,153.1 178.0,150.0 C184.1,146.9 197.4,142.2 205.0,140.0 C212.6,137.8 219.3,137.6 223.5,137.0 C227.7,136.4 228.9,136.7 230.0,136.6 C230.8,136.5 232.9,136.4 234.7,136.2 C236.5,136.0 239.0,135.7 241.0,135.6 C243.0,135.5 244.9,135.5 246.7,135.8 C248.4,136.1 250.2,136.6 251.5,137.3 C252.8,138.0 253.9,139.1 254.6,140.0 C255.3,140.9 255.5,141.9 255.6,143.0 C255.7,144.1 255.7,145.4 255.3,146.7 C254.9,147.9 254.4,149.0 253.0,150.5 C251.6,152.0 248.9,154.0 246.7,155.5 C244.5,157.0 242.0,158.5 240.0,159.5 C238.0,160.5 236.9,160.9 234.7,161.6 C232.5,162.2 228.0,163.1 226.7,163.4 C225.8,164.0 223.2,166.1 221.0,167.0 C218.8,167.9 216.9,168.3 213.4,168.6 C209.9,168.9 204.0,168.8 200.0,168.8 C196.0,168.8 191.2,168.8 189.4,168.8 C189.0,169.1 188.1,170.4 187.0,170.8 C185.9,171.2 184.3,170.9 183.0,171.0 C181.7,171.1 179.6,171.2 178.9,171.2 C178.1,170.2 175.7,167.1 174.0,165.0 C172.3,162.9 169.5,159.7 168.6,158.6 Z" fill="#c6ecd8" stroke="#4b838b" stroke-width="0.6"/>
<path d="M218.7,146.7 C222,144 226,142.5 230,142.5 C240,142 250,144 251,146.5 C247,150 240,152.5 234.7,154.7 C231,157 228.5,160 226.7,163 C224,160 221.5,155 218.7,146.7 Z" fill="#d2efbc"/>
<path d="M223.5,142.5 C224.2,141.9 226.1,140.0 228.0,139.0 C229.9,138.0 232.5,137.1 234.7,136.6 C236.9,136.1 239.0,136.0 241.0,135.9 C243.0,135.8 245.0,135.8 246.7,136.1 C248.4,136.4 250.0,136.9 251.3,137.6 C252.6,138.3 253.6,139.3 254.3,140.2 C255.0,141.1 255.2,141.9 255.3,143.0 C255.4,144.1 255.4,145.5 255.0,146.7 C254.6,147.9 254.2,148.9 252.8,150.3 C251.4,151.7 248.8,153.7 246.7,155.2 C244.6,156.7 242.0,158.2 240.0,159.2 C238.0,160.2 236.9,160.7 234.7,161.3 C232.5,162.0 228.0,162.8 226.7,163.1 C227.0,162.3 227.4,159.8 228.5,158.5 C229.6,157.2 231.6,156.0 233.5,155.0 C235.4,154.0 237.9,153.3 240.0,152.4 C242.1,151.5 244.2,150.7 246.0,149.8 C247.8,148.9 249.7,147.8 250.6,146.8 C251.5,145.8 251.6,144.6 251.2,143.6 C250.8,142.6 249.6,141.6 248.0,141.0 C246.4,140.4 243.7,140.0 241.5,139.9 C239.3,139.8 236.8,140.1 234.7,140.6 C232.6,141.1 230.5,142.0 229.0,142.9 C227.5,143.8 226.1,145.5 225.5,146.0 C225.2,145.4 223.8,143.1 223.5,142.5 Z" fill="#4fc098" stroke="#4b838b" stroke-width="0.45"/>
<g transform="rotate(-8 239.4 145)"><ellipse cx="239.4" cy="145" rx="12.7" ry="5.3" fill="#c9ae92" stroke="#7d5e48" stroke-width="0.6"/><ellipse cx="239.4" cy="145" rx="10.2" ry="3.9" fill="#e7d8c4"/><ellipse cx="239.4" cy="145" rx="7.9" ry="2.7" fill="#f6f1e9" stroke="#c4ab8e" stroke-width="0.35"/></g>
<path d="M206.7,150.0 C207.4,149.7 209.4,148.2 210.7,148.0 C212.0,147.8 213.2,148.3 214.5,148.6 C215.8,148.9 217.7,149.3 218.7,150.0 C219.7,150.7 220.6,151.9 220.7,152.7 C220.8,153.5 219.3,154.1 219.4,154.7 C219.5,155.3 220.4,155.9 221.0,156.5 C221.6,157.1 222.8,157.8 222.7,158.0 C222.6,158.2 221.2,157.8 220.5,157.6 C219.8,157.4 219.7,157.1 218.7,156.7 C217.7,156.3 216.2,155.8 214.7,155.4 C213.1,155.0 210.7,154.6 209.4,154.0 C208.1,153.4 207.1,152.7 206.7,152.0 C206.2,151.3 206.7,150.3 206.7,150.0 Z" fill="#d63a35" stroke="#9a2522" stroke-width="0.4"/>
<path d="M210.5,149 C213,150 215.5,151.5 217,153.5 C215,153 212.5,152.5 210,151.5 Z" fill="#a82622" opacity="0.7"/>
<circle cx="225.4" cy="155.1" r="2.2" fill="#e0403a"/><circle cx="221.8" cy="159" r="0.9" fill="#e0403a"/>
<ellipse cx="221.6" cy="149.3" rx="2.4" ry="1.6" fill="#5a86d0"/>
<ellipse cx="234" cy="155.4" rx="4.6" ry="1.6" transform="rotate(-24 234 155.4)" fill="#6fd05a" stroke="#3f9a4a" stroke-width="0.3"/>
<ellipse cx="229.4" cy="160" rx="3.4" ry="1.2" transform="rotate(-20 229.4 160)" fill="#6fd05a" stroke="#3f9a4a" stroke-width="0.3"/>
<ellipse cx="225.6" cy="142.4" rx="2.4" ry="0.9" transform="rotate(-35 225.6 142.4)" fill="#6fd05a"/>
<path d="M186.7,154.0 C187.0,153.8 187.4,152.8 188.7,153.0 C190.0,153.2 192.4,154.5 194.7,155.4 C197.0,156.3 202.2,158.2 202.7,158.7 C203.2,159.2 199.1,158.6 197.5,158.4 C195.9,158.2 195.1,158.0 193.4,157.6 C191.7,157.2 188.5,156.6 187.4,156.0 C186.3,155.4 186.8,154.3 186.7,154.0 Z" fill="#d9534f" stroke="#a82a28" stroke-width="0.4"/>
<path d="M181.3,162.7 C182.2,162.5 185.0,161.9 187.0,161.7 C189.0,161.5 190.6,161.6 193.4,161.4 C196.2,161.2 201.1,161.0 204.0,160.7 C206.9,160.4 208.9,159.5 210.7,159.4 C212.5,159.3 213.9,159.6 215.0,160.0 C216.1,160.4 216.8,161.1 217.4,162.0 C218.0,162.9 218.8,164.6 218.7,165.4 C218.5,166.2 217.4,166.4 216.5,166.6 C215.6,166.8 214.7,166.9 213.4,166.7 C212.1,166.5 210.1,165.6 208.5,165.2 C206.9,164.8 205.7,164.0 204.0,164.0 C202.3,164.0 200.3,164.9 198.5,165.2 C196.7,165.5 195.2,165.8 193.4,166.0 C191.7,166.2 189.6,166.4 188.0,166.4 C186.4,166.4 185.2,166.3 184.0,166.0 C182.8,165.7 181.4,165.4 181.0,164.8 C180.6,164.2 181.2,163.0 181.3,162.7 Z" fill="#6a8fc6" stroke="#3f6a92" stroke-width="0.4"/>
<path d="M193,163.3 C198,162.6 204,162.4 209,162.2 C211,162.6 212.5,163.4 213,164.3 C209,163.8 205,163.6 201,163.9 C198,164.2 195.5,164.2 193,163.3 Z" fill="#b4c8ea"/>
<path d="M168,156.7 C171,156.3 174.5,156.8 177.3,158 C174,158.6 170.5,158.3 168,156.7 Z" fill="#6a8fc6"/>
<!-- peach -->
<path d="M116.2,155.0 C116.3,154.6 116.5,153.4 116.8,152.8 C117.1,152.2 117.3,151.9 117.9,151.5 C118.5,151.1 118.6,150.6 120.3,150.3 C122.0,150.1 124.7,149.8 128.0,150.0 C131.3,150.2 136.0,150.7 140.0,151.5 C144.0,152.3 148.6,153.8 152.0,155.0 C155.4,156.2 157.9,157.4 160.2,158.5 C162.4,159.6 163.8,160.4 165.5,161.5 C167.2,162.6 169.1,164.0 170.7,165.0 C172.3,166.0 173.7,166.7 175.2,167.6 C176.7,168.5 178.8,169.8 179.5,170.2 C178.8,170.5 177.1,171.5 175.4,172.0 C173.7,172.5 171.4,172.9 169.5,173.2 C167.6,173.5 165.9,173.7 163.7,173.8 C161.5,173.9 158.8,173.9 156.5,173.8 C154.2,173.7 151.9,173.5 149.6,173.2 C147.3,172.9 144.8,172.4 142.5,171.8 C140.2,171.2 137.8,170.4 135.5,169.6 C133.2,168.8 131.2,167.9 129.0,166.8 C126.8,165.7 124.2,164.2 122.6,163.2 C121.0,162.2 120.2,161.5 119.2,160.6 C118.2,159.7 117.2,158.8 116.7,157.9 C116.2,157.0 116.3,155.5 116.2,155.0 Z" fill="url(#gA_peach)" stroke="#e58c52" stroke-width="0.7"/>
<path d="M179.5,170.2 C178.8,170.5 177.1,171.5 175.4,172.0 C173.7,172.5 171.4,172.9 169.5,173.2 C167.6,173.5 165.9,173.7 163.7,173.8 C161.5,173.9 158.8,173.9 156.5,173.8 C154.2,173.7 151.9,173.5 149.6,173.2 C147.3,172.9 144.8,172.4 142.5,171.8 C140.2,171.2 137.8,170.4 135.5,169.6 C133.2,168.8 131.2,167.9 129.0,166.8 C126.8,165.7 124.2,164.2 122.6,163.2 C121.0,162.2 120.2,161.5 119.2,160.6 C118.2,159.7 117.1,158.3 116.7,157.9" fill="none" stroke="#fff" stroke-width="0.8" stroke-dasharray="2.2 1.6" opacity="0.65"/>

<!-- h. slice 1 side -->
<path d="M98.3,118.0 C98.4,118.4 98.5,119.6 98.8,120.5 C99.0,121.4 99.4,122.6 99.8,123.5 C100.2,124.4 100.9,125.2 101.4,126.0 C101.9,126.8 102.4,127.5 103.0,128.0 C103.6,128.5 104.2,128.9 105.0,129.2 C105.8,129.5 105.9,129.4 107.7,129.8 C109.5,130.2 113.9,131.2 116.0,131.6 C118.1,132.0 117.8,131.9 120.4,132.3 C123.0,132.7 128.5,133.1 131.6,133.9 C134.7,134.7 136.6,135.9 139.0,137.0 C141.4,138.1 143.8,139.3 146.0,140.5 C148.2,141.7 150.0,143.0 152.2,144.2 C154.4,145.4 156.7,146.4 159.0,147.5 C161.3,148.6 163.7,149.5 166.0,150.5 C168.3,151.5 170.5,152.5 172.8,153.3 C175.1,154.2 178.5,155.2 179.6,155.6 C178.9,155.5 176.8,154.8 175.4,154.9 C174.0,155.0 172.6,155.7 171.0,156.0 C169.4,156.3 168.0,156.7 166.0,156.9 C164.0,157.2 161.3,157.4 159.0,157.5 C156.7,157.6 154.7,157.7 152.0,157.5 C149.3,157.3 145.9,156.9 143.0,156.4 C140.1,155.9 137.0,155.3 134.3,154.6 C131.6,153.9 129.3,153.0 127.0,152.2 C124.7,151.4 122.2,150.3 120.3,149.9 C118.4,149.5 116.4,149.6 115.6,149.5 C115.2,149.0 114.1,147.7 113.2,146.5 C112.3,145.3 111.1,143.8 110.0,142.5 C108.9,141.2 107.5,139.6 106.5,138.5 C105.5,137.4 104.9,137.3 104.0,136.0 C103.1,134.7 101.8,132.5 101.0,130.5 C100.2,128.5 99.5,126.1 99.0,124.0 C98.5,121.9 98.4,119.0 98.3,118.0 Z" fill="url(#gA_lblue)" stroke="#3f6a92" stroke-width="0.6"/>
<path d="M108,131.5 C116,133 124,134 131.6,135.4 C139,138.5 146,142 152.2,145.8 C159,149 166,152 172.8,154.6" fill="none" stroke="#8ea8d6" stroke-width="3.6" opacity="0.55" filter="url(#blur1)"/>
<path d="M104,137 C112,141 124,143.5 136,145.5 C148,148 160,152.5 170,156" fill="none" stroke="#7f9cc8" stroke-width="0.5" opacity="0.7"/>
<path d="M104,124.7 L125.5,127 L156,127 L182.4,121 C185,119.5 187.5,117.7 190.5,116 C193.5,114.2 197,112.5 200.7,111 C206,109.4 211.5,107.8 217,106 C222.5,103.6 228,101 233.2,97.8 C235.5,96 236.5,93.8 235.2,91.1 C238,94.5 240.5,98.5 242.7,103.3 C245,108 246.8,114 247.8,121 C247.5,125 245.5,128 242.7,130 C239.5,132.5 236,134.5 232.5,136.3 C229,137.6 226,138.6 223,139.6 C217,141 211,142.6 204.8,144.2 C198.5,145.6 192.5,147.2 186.5,148.8 C184,150.3 181.6,151.8 179.6,153.3 L179.6,155.6 L172.8,153.3 C166,150.5 159,147.5 152.2,144.2 C146,140.5 139,137 131.6,133.9 C125,132.8 118,132 111,130.5 C108,129 106,127 104,124.7 Z" fill="url(#gA_body)" stroke="#4b838b" stroke-width="0.8"/>
<g fill="none" stroke="#8fb2b2" stroke-width="0.5">
<path d="M175,143 C176.5,140 178,138 179.6,136 C185,130 190,124 195,118"/>
<path d="M181.9,145.3 C188,144.3 196,144.5 202.5,144.2 C200,142 197.5,140 195.6,138.5"/>
<path d="M224,112 C228,113.5 231,117 231,121.5 C231,124 229.5,126 227.5,127"/><path d="M234,107 C238,110 240.5,114.5 240,119"/><path d="M196,117 C199,124 201,131 201,138"/>
</g>


<!-- i. section 1 top -->
<path d="M150,100 L176.3,92 L196.6,86 L208.8,84 L225,85 C229,86.5 233,88.6 235.2,91.1 C236.5,93.8 235.5,96.8 233.2,99.2 C228,102.5 222.5,105 217,107.4 C211.5,109.2 206,110.8 200.7,112.4 C197,114 193.5,115.7 190.5,117.5 C187.5,119.2 185,121 182.4,122.6 L160,120 Z" fill="#4fc098" stroke="#4b838b" stroke-width="0.6"/>
<!-- pale ring -->
<path d="M102.6,108.0 C102.3,108.7 101.1,110.7 100.8,112.0 C100.5,113.3 100.6,114.7 100.8,116.0 C101.0,117.3 101.3,118.3 102.0,119.6 C102.7,120.8 103.7,122.4 105.0,123.5 C106.3,124.6 107.4,125.5 110.0,126.3 C112.6,127.1 115.3,127.9 120.4,128.4 C125.5,128.9 133.9,129.5 140.7,129.4 C147.5,129.3 154.8,128.8 161.0,127.8 C167.2,126.8 173.6,124.8 177.6,123.4 C181.6,122.0 183.1,120.8 185.0,119.5 C186.9,118.2 188.1,117.0 189.0,115.8 C189.9,114.6 190.3,113.3 190.3,112.5 C190.3,111.7 190.1,111.6 189.0,110.7 C187.9,109.8 184.8,107.5 184.0,106.9 L171,101 L108,102 L102.6,108 Z" fill="#cdeee0" stroke="#4b838b" stroke-width="0.6"/>
<path d="M104.2,107 C102.8,111 102.8,115.5 104,119 C105.5,122 108,124.3 111.5,125.8" fill="none" stroke="#4b838b" stroke-width="0.5"/>
<path d="M107.2,114.4 C107.3,115.0 107.5,116.8 108.0,118.0 C108.5,119.2 109.1,120.6 110.2,121.5 C111.3,122.4 112.8,123.0 114.5,123.5 C116.2,124.0 117.8,124.2 120.4,124.6 C123.0,125.0 126.6,125.6 130.0,125.9 C133.4,126.2 137.2,126.5 140.7,126.6 C144.2,126.7 147.6,126.6 151.0,126.3 C154.4,126.0 158.1,125.5 161.0,125.0 C163.9,124.5 166.2,124.0 168.5,123.4 C170.8,122.8 172.8,122.3 175.0,121.5 C177.2,120.7 179.6,119.8 181.5,118.8 C183.4,117.8 185.2,116.8 186.5,115.8 C187.8,114.8 188.7,113.5 189.0,112.5 C189.3,111.5 189.3,110.9 188.5,110.0 C187.7,109.1 186.9,107.7 184.0,106.9 C181.1,106.1 173.3,105.3 171.2,105.0 L112,102 L108,106 L107.2,114.4 Z" fill="url(#gA_ring)" stroke="#3f6a92" stroke-width="0.6"/>
<path d="M116.3,110.3 C116.3,111.2 116.2,114.3 116.5,116.0 C116.8,117.7 117.2,119.5 117.9,120.5 C118.7,121.5 119.7,121.4 121.0,121.7 C122.3,122.0 123.5,122.2 125.5,122.5 C127.5,122.8 130.5,123.2 133.0,123.5 C135.5,123.8 137.7,124.0 140.7,124.0 C143.7,124.0 147.6,123.7 151.0,123.4 C154.4,123.1 158.1,122.5 161.0,122.0 C163.9,121.5 166.2,121.0 168.5,120.4 C170.8,119.8 173.1,119.2 175.0,118.5 C176.9,117.8 178.7,117.0 180.0,116.2 C181.3,115.4 182.4,114.4 182.8,113.5 C183.2,112.6 183.7,111.5 182.7,110.7 C181.7,109.9 178.9,108.9 177.0,108.4 C175.1,107.9 172.2,107.7 171.2,107.5 L120,104 L116.3,110.3 Z" fill="#d6eeee" stroke="#3f6a92" stroke-width="0.5"/>
<path d="M118.4,118.5 C118.9,118.8 120.3,119.6 121.5,120.0 C122.7,120.4 123.6,120.7 125.5,121.0 C127.4,121.3 130.5,121.6 133.0,121.8 C135.5,122.0 137.7,122.1 140.7,122.0 C143.7,121.9 147.6,121.7 151.0,121.3 C154.4,120.9 158.1,120.1 161.0,119.5 C163.9,118.9 166.2,118.3 168.5,117.6 C170.8,116.9 173.1,116.1 175.0,115.4 C176.9,114.7 178.7,114.2 180.0,113.6 C181.3,113.0 182.3,112.5 182.7,112.0 C183.1,111.5 182.8,110.8 182.3,110.4 C181.9,110.0 181.2,109.8 180.0,109.6 C178.8,109.4 176.5,109.2 175.0,109.2 C173.5,109.2 171.8,109.4 171.2,109.4 C170.8,109.5 169.5,109.8 169.0,110.2 C168.5,110.6 168.3,111.1 168.2,111.6 C168.1,112.1 168.2,113.1 168.2,113.4 C167.7,113.7 166.2,114.5 165.0,115.0 C163.8,115.5 163.0,115.9 161.0,116.4 C159.0,116.9 155.5,117.5 153.0,117.8 C150.5,118.1 148.3,118.4 145.8,118.5 C143.3,118.6 140.5,118.6 138.0,118.5 C135.5,118.4 132.8,118.2 130.6,117.9 C128.4,117.7 126.7,117.3 125.0,117.0 C123.3,116.7 121.5,115.7 120.4,115.9 C119.3,116.2 118.7,118.1 118.4,118.5 Z" fill="#8fabdc" stroke="#3f6a92" stroke-width="0.45"/>
<path d="M124,112 C135,114.5 150,114.8 164,112.5" fill="none" stroke="#ffffff" stroke-width="2.5" opacity="0.55" filter="url(#blur1)"/>
<!-- heart red -->
<path d="M136.7,109.3 C137.4,109.0 139.2,108.2 141.0,107.8 C142.8,107.4 145.6,107.2 147.8,106.8 C150.0,106.4 151.8,105.9 154.0,105.6 C156.2,105.2 158.9,104.9 161.0,104.7 C163.1,104.5 164.9,104.5 166.5,104.6 C168.1,104.7 170.3,104.9 170.7,105.2 C171.0,105.5 169.4,105.9 168.6,106.2 C167.8,106.5 167.6,106.5 166.0,106.8 C164.4,107.0 161.3,107.4 159.0,107.7 C156.7,108.0 153.2,108.6 152.0,108.8 C152.0,109.1 151.2,110.4 152.0,110.8 C152.8,111.2 155.4,110.9 157.0,111.0 C158.6,111.1 161.2,111.2 161.6,111.5 C162.0,111.8 160.4,112.5 159.5,112.8 C158.6,113.1 157.6,113.3 156.0,113.4 C154.4,113.5 152.0,113.6 150.0,113.5 C148.0,113.4 145.4,113.2 143.8,112.9 C142.2,112.6 141.3,112.2 140.5,111.8 C139.7,111.4 139.3,110.7 138.7,110.3 C138.1,109.9 137.0,109.5 136.7,109.3 Z" fill="#d0706c" stroke="#b04442" stroke-width="0.4"/>
<path d="M141.5,109.6 C144,108.6 147.5,108.2 151,108.4 C150.5,109.6 150.5,110.8 151,111.8 C147.5,111.8 144,111 141.5,109.6 Z" fill="#b02d2b"/>
<!-- pharynx white diamond -->
<path d="M182.6,95.5 C185,94.2 187.8,93.4 190.3,93.2 C194,94.3 197.5,96.2 200.2,98.5 C201.3,99.5 202.3,100.5 203.2,101.4 C205.2,103.2 207.2,105 209.3,106.8 C205.5,106.2 202,105.2 198.5,103.9 C195,103.8 191.5,103.4 187.9,102.6 C185.5,100.5 183.8,98 182.6,95.5 Z" fill="#ffffff" stroke="#e0504c" stroke-width="1.1" stroke-linejoin="round"/>
<g transform="rotate(-8 217.2 93.4)"><ellipse cx="217.2" cy="93.4" rx="12.2" ry="5.4" fill="#c9ae92" stroke="#7d5e48" stroke-width="0.6"/><ellipse cx="217.2" cy="93.4" rx="9.76" ry="4.00" fill="#e7d8c4"/><ellipse cx="217.2" cy="93.4" rx="7.56" ry="2.81" fill="#f6f1e9" stroke="#c4ab8e" stroke-width="0.35"/></g>
<ellipse cx="220.8" cy="102.9" rx="4.8" ry="2.6" transform="rotate(-20 220.8 102.9)" fill="#6fd05a"/>
<ellipse cx="206.1" cy="89.3" rx="3.8" ry="1.4" transform="rotate(-14 206.1 89.3)" fill="#6fd05a"/>
<ellipse cx="197.9" cy="92.6" rx="1.3" ry="1.7" fill="#e0403a"/><ellipse cx="209" cy="102.3" rx="2.4" ry="1.3" fill="#e0403a"/><circle cx="202.6" cy="97.9" r="1.8" fill="#5a86d0"/>

<path d="M100.7,108.2 C98.5,111 97.8,114 98.2,117 C98.8,120.5 99.8,123.5 101.4,126 C103,128 105,129.2 107.7,129.8 C112,130.8 116,131.6 120.4,132.3 L131.6,133.9 C139,137 146,140.5 152.2,144.2 C159,147.5 166,150.5 172.8,153.3 L179.6,155.6" fill="none" stroke="#4a8a66" stroke-width="1.9"/>
<path d="M100.7,108.2 C98.5,111 97.8,114 98.2,117 C98.8,120.5 99.8,123.5 101.4,126 C103,128 105,129.2 107.7,129.8 C112,130.8 116,131.6 120.4,132.3 L131.6,133.9 C139,137 146,140.5 152.2,144.2 C159,147.5 166,150.5 172.8,153.3 L179.6,155.6" fill="none" stroke="#a8e290" stroke-width="1.05"/>
<!-- j. head -->
<path d="M99,101.8 C100,98.5 101.5,96 103,93.6 C106,89.5 109.5,86.5 113.3,83.5 C117.5,80 122,76.5 125.5,72.3 C124,71 123,70 122.5,69.2 C119.5,64.5 117,59.5 115.4,55 C114.3,52 114,48.5 114.3,45.8 C115.5,41 118,36.5 121.5,32.6 C126,27 131,21.5 135.7,16.3 C141,10.5 146.5,5.5 152,1 C155.5,2 158.5,3.5 161.2,5 C162.5,4 164,3.3 166.2,3 C170,3.8 173.5,5.2 176.4,7 C181.5,11 186.5,15.5 190.7,20.4 C195,25.5 199.2,31 202.9,36.6 C206.5,43 210,50 213,57 C215.5,62 218.5,67 221.2,71.2 C222.3,73 223,74.7 223.2,76.3 C223.4,78 223,79.8 222.2,81.4 C223,83 224,84.5 225.3,85.5 C219,84.6 214,84.8 209.6,85.4 C204,86.2 198,87.5 191.8,89.5 C187,91.5 182,94.5 177.8,97.5 C173,100 167,102 161.2,103.2 C154,105 147,106.3 141,106.9 C134,107.8 127,108.2 120.5,108 C115,107.6 110,106.8 105.3,105.6 C103,104.6 101,103.3 99,101.8 Z" fill="url(#gA_head)" stroke="#4b838b" stroke-width="0.8"/>
<clipPath id="clipHead"><path d="M99,101.8 C100,98.5 101.5,96 103,93.6 C106,89.5 109.5,86.5 113.3,83.5 C117.5,80 122,76.5 125.5,72.3 C124,71 123,70 122.5,69.2 C119.5,64.5 117,59.5 115.4,55 C114.3,52 114,48.5 114.3,45.8 C115.5,41 118,36.5 121.5,32.6 C126,27 131,21.5 135.7,16.3 C141,10.5 146.5,5.5 152,1 C155.5,2 158.5,3.5 161.2,5 C162.5,4 164,3.3 166.2,3 C170,3.8 173.5,5.2 176.4,7 C181.5,11 186.5,15.5 190.7,20.4 C195,25.5 199.2,31 202.9,36.6 C206.5,43 210,50 213,57 C215.5,62 218.5,67 221.2,71.2 C222.3,73 223,74.7 223.2,76.3 C223.4,78 223,79.8 222.2,81.4 C223,83 224,84.5 225.3,85.5 C219,84.6 214,84.8 209.6,85.4 C204,86.2 198,87.5 191.8,89.5 C187,91.5 182,94.5 177.8,97.5 C173,100 167,102 161.2,103.2 C154,105 147,106.3 141,106.9 C134,107.8 127,108.2 120.5,108 C115,107.6 110,106.8 105.3,105.6 C103,104.6 101,103.3 99,101.8 Z"/></clipPath>
<g clip-path="url(#clipHead)">
<path d="M99,101.8 C100,98.5 101.5,96 103,93.6 C106,89.5 109.5,86.5 113.3,83.5 C117.5,80 122,76.5 125.5,72.3 C124,71 123,70 122.5,69.2 C119.5,64.5 117,59.5 115.4,55 C114.3,52 114,48.5 114.3,45.8 C115.5,41 118,36.5 121.5,32.6 C126,27 131,21.5 135.7,16.3 C141,10.5 146.5,5.5 152,1 C155.5,2 158.5,3.5 161.2,5 C162.5,4 164,3.3 166.2,3 C170,3.8 173.5,5.2 176.4,7 C181.5,11 186.5,15.5 190.7,20.4 C195,25.5 199.2,31 202.9,36.6 C206.5,43 210,50 213,57 C215.5,62 218.5,67 221.2,71.2 C222.3,73 223,74.7 223.2,76.3 C223.4,78 223,79.8 222.2,81.4 C223,83 224,84.5 225.3,85.5 C219,84.6 214,84.8 209.6,85.4 C204,86.2 198,87.5 191.8,89.5 C187,91.5 182,94.5 177.8,97.5 C173,100 167,102 161.2,103.2 C154,105 147,106.3 141,106.9 C134,107.8 127,108.2 120.5,108 C115,107.6 110,106.8 105.3,105.6 C103,104.6 101,103.3 99,101.8 Z" fill="none" stroke="#c9cdc4" stroke-width="6" filter="url(#blur2)" opacity="0.7"/>
<path d="M152,1 C146.5,5.5 141,10.5 135.7,16.3 C131,21.5 126,27 121.5,32.6 C118,36.5 115.5,41 114.3,45.8 C114,48.5 114.3,52 115.4,55 C117,59.5 119.5,64.5 122.5,69.2 L126.6,72.3 C125,69 124,66 123.5,63.1 C122.8,59.5 122.8,56 123.5,52.9 C125,48.5 127,44.5 129.6,40.7 C134.5,33.5 140,26.5 145.9,20.4 C151,15 156,10 161.2,5 C158.5,3.5 155.5,2 152,1 Z" fill="#d8dcd3"/>
<path d="M150,69.2 C150,73 150.3,76.5 151,79.4 C152,82 153.8,84 156,85.5 C159,87.5 162.5,88.8 166.2,89.6 C169,89.6 172,88.6 174.6,87 C177,85.2 179.5,82.6 181.9,80.3" fill="none" stroke="#c3c8bf" stroke-width="3" filter="url(#blur1)" transform="translate(1,-1.5)"/>
<path d="M99,101.8 C105,106 118,109 141,107 C160,104 175,99 192,89.5 C205,85 215,84.5 225,85.5" fill="none" stroke="#cdd1c8" stroke-width="4" filter="url(#blur1)"/>
</g>
<g fill="none" stroke="#4b838b" stroke-width="0.7">
<path d="M161.2,5 C156,10 151,15 145.9,20.4 C140,26.5 134.5,33.5 129.6,40.7 C127,44.5 125,48.5 123.5,52.9 C122.8,56 122.8,59.5 123.5,63.1 C124,66 125,69 126.6,72.3"/>
<path d="M150,69.2 C150,73 150.3,76.5 151,79.4 C152,82 153.8,84 156,85.5 C159,87.5 162.5,88.8 166.2,89.6 C169,89.6 172,88.6 174.6,87 C177,85.2 179.5,82.6 181.9,80.3"/>
<path d="M175.4,89 C178,91.5 181,93.5 184.6,94.7" stroke-width="0.6"/>

<path d="M105,100.8 C114,96 124,91 133.7,87.5 C139,86.3 145,86 150,86.5 C156,88 161,90 166.2,92.6" stroke="#a8c4c4" stroke-width="0.5"/>
</g>


</g>



<g id="figB">
<filter id="blur1" x="-20%" y="-20%" width="140%" height="140%"><feGaussianBlur stdDeviation="1.1"/></filter>
<filter id="blur2" x="-20%" y="-20%" width="140%" height="140%"><feGaussianBlur stdDeviation="1.8"/></filter>
<!-- left lobe -->
<path d="M636.8,10.8 C635.5,9.8 634.5,9 633.6,8.3 C631,6.5 628.5,5 626,3.8 C622,2.2 618,1.6 614.5,1.5 C610.5,1.6 606.5,2.2 603,3.2 C598.5,4.5 594.5,6.5 591.6,8.9 C588,12 585.5,16 584,20.4 C582.3,24 581.3,28 580.8,31.8 C580.2,36 580,40 580.2,43.3 C580.5,49 581.8,54 583.5,58.5 C585,62.5 587.5,66.5 590.5,69.5 C593,72 596.5,74 600,75.2 C603.5,76.2 607,76.5 610,76.3 C614,76.2 619,75.6 622.6,74.6 C626,73 629,70 630.6,66.7 C631.2,66 631.5,65.5 631.8,64.9 C633,61 635,56 636.9,50.9 C638.5,46.5 639.8,42 640.7,38.2 L640.7,25 Z" fill="#d7d1c5" stroke="#7a5c4e" stroke-width="0.8"/>
<clipPath id="clipLobe"><path d="M636.8,10.8 C635.5,9.8 634.5,9 633.6,8.3 C631,6.5 628.5,5 626,3.8 C622,2.2 618,1.6 614.5,1.5 C610.5,1.6 606.5,2.2 603,3.2 C598.5,4.5 594.5,6.5 591.6,8.9 C588,12 585.5,16 584,20.4 C582.3,24 581.3,28 580.8,31.8 C580.2,36 580,40 580.2,43.3 C580.5,49 581.8,54 583.5,58.5 C585,62.5 587.5,66.5 590.5,69.5 C593,72 596.5,74 600,75.2 C603.5,76.2 607,76.5 610,76.3 C614,76.2 619,75.6 622.6,74.6 C626,73 629,70 630.6,66.7 C631.2,66 631.5,65.5 631.8,64.9 C633,61 635,56 636.9,50.9 C638.5,46.5 639.8,42 640.7,38.2 L640.7,25 Z"/></clipPath>
<g clip-path="url(#clipLobe)">
  <path d="M636.8,10.8 C635.5,9.8 634.5,9 633.6,8.3 C631,6.5 628.5,5 626,3.8 C622,2.2 618,1.6 614.5,1.5 C610.5,1.6 606.5,2.2 603,3.2 C598.5,4.5 594.5,6.5 591.6,8.9 C588,12 585.5,16 584,20.4 C582.3,24 581.3,28 580.8,31.8 C580.2,36 580,40 580.2,43.3 C580.5,49 581.8,54 583.5,58.5 C585,62.5 587.5,66.5 590.5,69.5 C593,72 596.5,74 600,75.2 C603.5,76.2 607,76.5 610,76.3 C614,76.2 619,75.6 622.6,74.6 C626,73 629,70 630.6,66.7 C631.2,66 631.5,65.5 631.8,64.9 C633,61 635,56 636.9,50.9 C638.5,46.5 639.8,42 640.7,38.2 L640.7,25 Z" fill="none" stroke="#a39988" stroke-width="5" filter="url(#blur2)" opacity="0.8"/>
  <path d="M629,18.5 C624,14.5 619,13 614.5,13.4 C611,13.8 608,14.8 605.6,16.5 C602.5,19 600,22 598,25.4 C595.8,29.5 594.5,33.5 594,38 C593.7,43 594.2,48.5 595.4,53.4 C596.3,57.5 597.5,61 599,63.6 C600.5,66 602,68 604,69.5" fill="none" stroke="#a1978a" stroke-width="5" filter="url(#blur2)" transform="translate(3,1)"/>
  <path d="M629,18.5 C624,14.5 619,13 614.5,13.4 C611,13.8 608,14.8 605.6,16.5 C602.5,19 600,22 598,25.4 C595.8,29.5 594.5,33.5 594,38 C593.7,43 594.2,48.5 595.4,53.4 C596.3,57.5 597.5,61 599,63.6 C600.5,66 602,68 604,69.5" fill="none" stroke="#dcd6ca" stroke-width="1.6" filter="url(#blur1)" transform="translate(-1.2,-0.4)"/>
</g>
<!-- body -->
<path d="M628.6,22.3 C629.2,21.1 630.6,16.9 632.0,15.0 C633.4,13.1 635.0,12.1 636.9,10.8 C638.8,9.5 640.3,8.4 643.3,7.0 C646.3,5.6 650.9,3.5 654.7,2.5 C658.5,1.5 662.0,1.1 666.0,1.0 C670.0,0.9 675.3,0.6 678.9,1.9 C682.5,3.2 685.4,5.8 687.8,8.9 C690.2,12.0 692.3,16.4 693.5,20.4 C694.7,24.4 695.1,28.7 695.0,33.0 C694.9,37.3 693.9,42.9 692.9,46.3 C691.9,49.7 690.6,51.4 688.9,53.4 C687.2,55.4 684.4,56.8 682.7,58.0 C681.0,59.2 679.2,60.1 678.5,60.5 C678.9,61.9 679.7,65.3 680.7,68.7 C681.8,72.1 683.9,77.4 684.8,80.9 C685.7,84.5 685.9,86.5 686.0,90.0 C686.1,93.5 685.5,97.8 685.3,102.0 C685.1,106.2 684.7,110.7 685.0,115.0 C685.3,119.3 686.2,123.7 687.0,128.0 C687.8,132.3 689.0,135.7 690.0,141.0 C691.0,146.3 691.9,153.7 692.7,160.0 C693.5,166.3 694.3,172.3 695.0,179.0 C695.7,185.7 696.8,193.2 697.0,200.0 C697.2,206.8 695.6,214.3 696.4,220.0 C697.2,225.7 700.1,228.9 701.6,234.0 C703.1,239.1 704.4,245.4 705.3,250.5 C706.2,255.6 706.6,259.5 707.0,264.6 C707.4,269.7 707.6,275.5 707.7,281.0 C707.8,286.5 707.9,292.0 707.7,297.5 C707.5,303.0 707.2,308.5 706.7,314.0 C706.2,319.5 705.3,326.1 704.8,330.4 C704.2,334.7 703.9,335.9 703.4,339.8 C702.9,343.7 702.8,346.8 701.6,353.5 C700.4,360.2 697.8,373.2 696.3,380.0 C694.8,386.8 694.2,389.6 692.7,394.0 C691.2,398.4 689.5,402.1 687.5,406.4 C685.5,410.7 683.0,415.2 680.4,419.6 C677.8,424.0 674.5,428.8 671.6,432.8 C668.7,436.8 665.7,440.2 662.8,443.4 C659.9,446.6 657.2,449.3 654.0,452.2 C650.8,455.1 647.0,458.6 643.5,461.0 C640.0,463.4 635.9,465.3 632.9,466.3 C629.9,467.3 627.7,467.4 625.8,467.1 C623.9,466.8 622.3,465.7 621.4,464.5 C620.5,463.3 620.3,461.6 620.6,460.1 C620.9,458.6 622.8,456.4 623.2,455.7 L632,440 L628,300 L626,200 L628,110 L631.8,64.9 C633,61 635,56 636.9,50.9 L630,40 Z" fill="url(#gBody)"/>
<clipPath id="clipBody"><path d="M628.6,22.3 C629.2,21.1 630.6,16.9 632.0,15.0 C633.4,13.1 635.0,12.1 636.9,10.8 C638.8,9.5 640.3,8.4 643.3,7.0 C646.3,5.6 650.9,3.5 654.7,2.5 C658.5,1.5 662.0,1.1 666.0,1.0 C670.0,0.9 675.3,0.6 678.9,1.9 C682.5,3.2 685.4,5.8 687.8,8.9 C690.2,12.0 692.3,16.4 693.5,20.4 C694.7,24.4 695.1,28.7 695.0,33.0 C694.9,37.3 693.9,42.9 692.9,46.3 C691.9,49.7 690.6,51.4 688.9,53.4 C687.2,55.4 684.4,56.8 682.7,58.0 C681.0,59.2 679.2,60.1 678.5,60.5 C678.9,61.9 679.7,65.3 680.7,68.7 C681.8,72.1 683.9,77.4 684.8,80.9 C685.7,84.5 685.9,86.5 686.0,90.0 C686.1,93.5 685.5,97.8 685.3,102.0 C685.1,106.2 684.7,110.7 685.0,115.0 C685.3,119.3 686.2,123.7 687.0,128.0 C687.8,132.3 689.0,135.7 690.0,141.0 C691.0,146.3 691.9,153.7 692.7,160.0 C693.5,166.3 694.3,172.3 695.0,179.0 C695.7,185.7 696.8,193.2 697.0,200.0 C697.2,206.8 695.6,214.3 696.4,220.0 C697.2,225.7 700.1,228.9 701.6,234.0 C703.1,239.1 704.4,245.4 705.3,250.5 C706.2,255.6 706.6,259.5 707.0,264.6 C707.4,269.7 707.6,275.5 707.7,281.0 C707.8,286.5 707.9,292.0 707.7,297.5 C707.5,303.0 707.2,308.5 706.7,314.0 C706.2,319.5 705.3,326.1 704.8,330.4 C704.2,334.7 703.9,335.9 703.4,339.8 C702.9,343.7 702.8,346.8 701.6,353.5 C700.4,360.2 697.8,373.2 696.3,380.0 C694.8,386.8 694.2,389.6 692.7,394.0 C691.2,398.4 689.5,402.1 687.5,406.4 C685.5,410.7 683.0,415.2 680.4,419.6 C677.8,424.0 674.5,428.8 671.6,432.8 C668.7,436.8 665.7,440.2 662.8,443.4 C659.9,446.6 657.2,449.3 654.0,452.2 C650.8,455.1 647.0,458.6 643.5,461.0 C640.0,463.4 635.9,465.3 632.9,466.3 C629.9,467.3 627.7,467.4 625.8,467.1 C623.9,466.8 622.3,465.7 621.4,464.5 C620.5,463.3 620.3,461.6 620.6,460.1 C620.9,458.6 622.8,456.4 623.2,455.7 L632,440 L628,300 L626,200 L628,110 L631.8,64.9 C633,61 635,56 636.9,50.9 L630,40 Z"/></clipPath>
<g clip-path="url(#clipBody)">
  <path d="M628.6,22.3 C629.2,21.1 630.6,16.9 632.0,15.0 C633.4,13.1 635.0,12.1 636.9,10.8 C638.8,9.5 640.3,8.4 643.3,7.0 C646.3,5.6 650.9,3.5 654.7,2.5 C658.5,1.5 662.0,1.1 666.0,1.0 C670.0,0.9 675.3,0.6 678.9,1.9 C682.5,3.2 685.4,5.8 687.8,8.9 C690.2,12.0 692.3,16.4 693.5,20.4 C694.7,24.4 695.1,28.7 695.0,33.0 C694.9,37.3 693.9,42.9 692.9,46.3 C691.9,49.7 690.6,51.4 688.9,53.4 C687.2,55.4 684.4,56.8 682.7,58.0 C681.0,59.2 679.2,60.1 678.5,60.5 C678.9,61.9 679.7,65.3 680.7,68.7 C681.8,72.1 683.9,77.4 684.8,80.9 C685.7,84.5 685.9,86.5 686.0,90.0 C686.1,93.5 685.5,97.8 685.3,102.0 C685.1,106.2 684.7,110.7 685.0,115.0 C685.3,119.3 686.2,123.7 687.0,128.0 C687.8,132.3 689.0,135.7 690.0,141.0 C691.0,146.3 691.9,153.7 692.7,160.0 C693.5,166.3 694.3,172.3 695.0,179.0 C695.7,185.7 696.8,193.2 697.0,200.0 C697.2,206.8 695.6,214.3 696.4,220.0 C697.2,225.7 700.1,228.9 701.6,234.0 C703.1,239.1 704.4,245.4 705.3,250.5 C706.2,255.6 706.6,259.5 707.0,264.6 C707.4,269.7 707.6,275.5 707.7,281.0 C707.8,286.5 707.9,292.0 707.7,297.5 C707.5,303.0 707.2,308.5 706.7,314.0 C706.2,319.5 705.3,326.1 704.8,330.4 C704.2,334.7 703.9,335.9 703.4,339.8 C702.9,343.7 702.8,346.8 701.6,353.5 C700.4,360.2 697.8,373.2 696.3,380.0 C694.8,386.8 694.2,389.6 692.7,394.0 C691.2,398.4 689.5,402.1 687.5,406.4 C685.5,410.7 683.0,415.2 680.4,419.6 C677.8,424.0 674.5,428.8 671.6,432.8 C668.7,436.8 665.7,440.2 662.8,443.4 C659.9,446.6 657.2,449.3 654.0,452.2 C650.8,455.1 647.0,458.6 643.5,461.0 C640.0,463.4 635.9,465.3 632.9,466.3 C629.9,467.3 627.7,467.4 625.8,467.1 C623.9,466.8 622.3,465.7 621.4,464.5 C620.5,463.3 620.3,461.6 620.6,460.1 C620.9,458.6 622.8,456.4 623.2,455.7" fill="none" stroke="#a2988a" stroke-width="6" filter="url(#blur2)" opacity="0.85"/>
  <!-- soft shadow along crease -->
  <path d="M676.3,24.2 C672.5,21.5 668,20 663.6,19.7 C660,19.7 656.5,20.6 653.4,22.3 C650.5,24 648,26.3 645.8,29.3 C643.8,32 642,35 640.7,38.2 C639.5,42 638.3,46.5 636.9,50.9 C635.5,55.5 634,60 631.8,64.9" fill="none" stroke="#9c9282" stroke-width="3.4" filter="url(#blur1)" transform="translate(2,1.2)"/>
</g>
<path d="M628.6,22.3 C629.2,21.1 630.6,16.9 632.0,15.0 C633.4,13.1 635.0,12.1 636.9,10.8 C638.8,9.5 640.3,8.4 643.3,7.0 C646.3,5.6 650.9,3.5 654.7,2.5 C658.5,1.5 662.0,1.1 666.0,1.0 C670.0,0.9 675.3,0.6 678.9,1.9 C682.5,3.2 685.4,5.8 687.8,8.9 C690.2,12.0 692.3,16.4 693.5,20.4 C694.7,24.4 695.1,28.7 695.0,33.0 C694.9,37.3 693.9,42.9 692.9,46.3 C691.9,49.7 690.6,51.4 688.9,53.4 C687.2,55.4 684.4,56.8 682.7,58.0 C681.0,59.2 679.2,60.1 678.5,60.5 C678.9,61.9 679.7,65.3 680.7,68.7 C681.8,72.1 683.9,77.4 684.8,80.9 C685.7,84.5 685.9,86.5 686.0,90.0 C686.1,93.5 685.5,97.8 685.3,102.0 C685.1,106.2 684.7,110.7 685.0,115.0 C685.3,119.3 686.2,123.7 687.0,128.0 C687.8,132.3 689.0,135.7 690.0,141.0 C691.0,146.3 691.9,153.7 692.7,160.0 C693.5,166.3 694.3,172.3 695.0,179.0 C695.7,185.7 696.8,193.2 697.0,200.0 C697.2,206.8 695.6,214.3 696.4,220.0 C697.2,225.7 700.1,228.9 701.6,234.0 C703.1,239.1 704.4,245.4 705.3,250.5 C706.2,255.6 706.6,259.5 707.0,264.6 C707.4,269.7 707.6,275.5 707.7,281.0 C707.8,286.5 707.9,292.0 707.7,297.5 C707.5,303.0 707.2,308.5 706.7,314.0 C706.2,319.5 705.3,326.1 704.8,330.4 C704.2,334.7 703.9,335.9 703.4,339.8 C702.9,343.7 702.8,346.8 701.6,353.5 C700.4,360.2 697.8,373.2 696.3,380.0 C694.8,386.8 694.2,389.6 692.7,394.0 C691.2,398.4 689.5,402.1 687.5,406.4 C685.5,410.7 683.0,415.2 680.4,419.6 C677.8,424.0 674.5,428.8 671.6,432.8 C668.7,436.8 665.7,440.2 662.8,443.4 C659.9,446.6 657.2,449.3 654.0,452.2 C650.8,455.1 647.0,458.6 643.5,461.0 C640.0,463.4 635.9,465.3 632.9,466.3 C629.9,467.3 627.7,467.4 625.8,467.1 C623.9,466.8 622.3,465.7 621.4,464.5 C620.5,463.3 620.3,461.6 620.6,460.1 C620.9,458.6 622.8,456.4 623.2,455.7" fill="none" stroke="#7a5c4e" stroke-width="0.8"/>
<path d="M676.3,24.2 C672.5,21.5 668,20 663.6,19.7 C660,19.7 656.5,20.6 653.4,22.3 C650.5,24 648,26.3 645.8,29.3 C643.8,32 642,35 640.7,38.2 C639.5,42 638.3,46.5 636.9,50.9 C635.5,55.5 634,60 631.8,64.9" fill="none" stroke="#7a5c4e" stroke-width="0.8"/>
<path d="M637.7,66.7 C640,66.6 642,68 643.3,70" fill="none" stroke="#7a5c4e" stroke-width="0.7"/>

<!-- gut tube pinkish strip behind cavities -->
<path d="M655,160 L662.5,168 L660.5,186 L660,194 L654,194 Z" fill="#cbb2b0"/>
<path d="M627.0,192.0 C632.5,192.0 654.5,192.0 660.0,192.0 C659.8,193.3 658.8,195.3 658.5,200.0 C658.2,204.7 657.7,214.3 658.3,220.0 C658.9,225.7 660.6,228.9 662.3,234.0 C663.9,239.1 666.4,245.0 668.2,250.5 C670.0,256.0 671.5,261.1 672.9,267.0 C674.3,272.9 675.5,279.5 676.4,285.8 C677.2,292.1 677.6,298.3 678.0,304.6 C678.4,310.9 678.8,317.5 678.8,323.4 C678.8,329.3 678.6,334.8 678.3,339.8 C678.0,344.8 678.3,346.8 677.0,353.5 C675.7,360.2 672.5,372.9 670.7,380.0 C668.9,387.1 668.2,390.8 666.3,395.8 C664.4,400.8 661.6,406.3 659.3,410.0 C657.0,413.7 654.2,415.9 652.3,417.9 C650.4,419.9 648.7,421.3 648.0,422.0 C645.7,420.7 635.3,434.3 634.0,414.0 C632.7,393.7 641.2,330.7 640.0,300.0 C638.8,269.3 629.2,248.0 627.0,230.0 C624.8,212.0 627.0,198.3 627.0,192.0 Z" fill="#cbb2b0"/>

<!-- pharynx / foregut red tube -->
<path d="M589.6,91.6 C592,87 595,83 598.5,80 C604,77 610,75.2 616,73.8 C620.5,72 625,70.5 629,70 C632,69.7 635,69.6 638,70 C642,71.5 645,73.5 647,76 C650,80 652,84.5 653,89 C654.5,96 655.4,102 655.8,109 L657,150 L658.3,174 C658,181 657.5,187 657,191.8 C655.5,199 653,205 649.4,209.6 C645.5,214.5 641,217.5 636.7,218.5 C632,218.8 629,216 627.8,212 L629,191.8 L629.6,109.4 C629.6,106.5 629.3,104 629,101.8 C628,104 627,105.5 626.5,105.6 C625,105.5 623.5,105 622.7,104.3 L600,112 L589,100 Z" fill="url(#gRedB)" stroke="#b83a30" stroke-width="0.6"/>
<path d="M589.6,91.6 C592,87 595,83 598.5,80 C604,77 610,75.2 616,73.8 C620.5,72 625,70.5 629,70 C632,69.7 635,69.6 638,70 C636,74 630,78 622,80 C612,82 600,86 589.6,91.6 Z" fill="#b02a24" opacity="0.7" filter="url(#blur1)"/>
</g>

<g id="figB2">
<path d="M678.7,148.5 C678.9,151.2 679.8,159.9 680.0,165.0 C680.2,170.1 680.2,173.2 680.0,179.0 C679.8,184.8 679.3,193.2 678.9,200.0 C678.5,206.8 676.8,213.5 677.6,220.0 C678.4,226.5 681.7,232.5 683.5,238.8 C685.3,245.1 686.9,251.3 688.2,257.6 C689.5,263.9 690.4,270.1 691.2,276.4 C692.0,282.7 692.6,288.9 692.9,295.2 C693.2,301.5 693.1,308.1 692.9,314.0 C692.7,319.9 692.1,326.1 691.7,330.4 C691.3,334.7 690.8,335.9 690.5,339.8 C690.2,343.7 691.0,346.8 689.9,353.5 C688.8,360.2 685.6,373.2 684.0,380.0 C682.4,386.8 681.9,389.3 680.4,394.0 C678.9,398.7 677.1,403.8 675.1,408.2 C673.1,412.6 670.4,416.7 668.1,420.5 C665.8,424.3 663.0,428.4 661.1,431.0 C659.2,433.6 658.2,435.2 656.7,436.0 C655.2,436.8 653.0,435.6 652.3,435.5 C651.6,434.9 649.4,433.8 647.9,432.0 C646.4,430.2 645.0,427.2 643.5,424.9 C642.0,422.5 639.8,419.1 639.0,417.9 C639.8,418.2 642.5,419.5 644.0,420.0 C645.5,420.5 647.3,420.8 648.0,421.0 C648.7,420.5 650.4,419.7 652.3,417.9 C654.2,416.1 657.0,413.7 659.3,410.0 C661.6,406.3 664.4,400.8 666.3,395.8 C668.2,390.8 668.9,387.1 670.7,380.0 C672.5,372.9 675.7,360.2 677.0,353.5 C678.3,346.8 678.0,344.8 678.3,339.8 C678.6,334.8 678.8,329.3 678.8,323.4 C678.8,317.5 678.4,310.9 678.0,304.6 C677.6,298.3 677.2,292.1 676.4,285.8 C675.5,279.5 674.3,272.9 672.9,267.0 C671.5,261.1 670.0,256.0 668.2,250.5 C666.4,245.0 663.9,239.1 662.3,234.0 C660.6,228.9 658.9,225.7 658.3,220.0 C657.7,214.3 658.2,205.8 658.5,200.0 C658.8,194.2 659.4,190.2 660.0,185.0 C660.6,179.8 661.7,171.7 662.0,169.0 C662.8,167.9 665.1,163.8 667.0,162.5 C668.9,161.2 672.5,161.4 673.6,161.2 C674.2,160.3 676.1,158.1 677.0,156.0 C677.9,153.9 678.4,149.8 678.7,148.5 Z" fill="#a9cfdd" fill-opacity="0.8" stroke="#3e8a9a" stroke-width="0.7"/>
<path d="M628.7,107.0 C630.9,107.2 637.7,107.2 642.0,108.0 C646.3,108.8 650.8,110.2 654.5,111.6 C658.2,113.0 661.1,114.2 664.0,116.5 C666.9,118.8 669.8,122.3 672.0,125.6 C674.2,128.8 675.9,132.2 677.0,136.0 C678.1,139.8 678.7,145.2 678.7,148.5 C678.7,151.8 677.9,153.9 677.0,156.0 C676.1,158.1 674.2,160.3 673.6,161.2 C672.5,161.4 668.9,161.2 667.0,162.5 C665.1,163.8 663.7,166.7 662.0,169.0 C660.3,171.3 659.1,174.0 657.0,176.5 C654.9,179.0 652.2,181.9 649.4,184.0 C646.6,186.1 643.4,187.7 640.0,189.0 C636.6,190.3 630.8,191.3 629.0,191.8 C628.8,195.2 628.3,207.1 627.8,212.0 C627.3,216.9 626.6,218.6 626.0,221.0 C625.4,223.4 624.3,225.8 624.0,226.7 C625.5,227.1 630.0,227.9 633.0,229.0 C636.0,230.1 638.7,230.6 641.8,233.0 C644.9,235.4 648.9,239.4 651.7,243.5 C654.5,247.6 656.9,252.1 658.8,257.6 C660.7,263.1 662.0,270.1 663.0,276.4 C664.0,282.7 664.3,288.9 664.7,295.2 C665.1,301.5 665.3,306.6 665.4,314.0 C665.5,321.4 665.6,333.2 665.4,339.8 C665.2,346.4 664.7,346.8 664.0,353.5 C663.3,360.2 661.8,373.2 661.0,380.0 C660.2,386.8 660.3,389.3 659.3,394.0 C658.3,398.7 656.8,404.4 654.9,408.2 C653.0,412.0 650.4,415.3 647.9,417.0 C645.4,418.7 642.0,418.7 639.9,418.4 C637.8,418.1 636.8,416.6 635.5,415.2 C634.2,413.8 632.6,410.9 632.0,410.0 C631.1,409.2 629.5,406.7 626.5,405.4 C623.5,404.1 617.9,402.5 613.8,402.4 C609.7,402.3 604.0,404.6 602.0,405.0 C601.2,404.6 598.3,404.7 597.0,402.8 C595.7,400.9 595.0,396.7 594.0,393.8 C593.0,390.9 592.0,388.2 591.1,385.2 C590.2,382.2 589.4,378.9 588.6,376.0 C587.8,373.1 587.1,370.6 586.4,367.6 C585.7,364.6 585.1,360.9 584.5,358.0 C583.9,355.1 583.3,354.7 582.9,350.0 C582.5,345.3 582.4,338.3 582.2,330.0 C582.1,321.7 582.0,311.3 582.0,300.0 C582.0,288.7 582.0,271.0 582.3,262.0 C582.5,253.0 582.6,250.7 583.5,246.0 C584.4,241.3 585.9,236.6 587.6,233.8 C589.3,231.0 591.8,230.6 593.5,229.0 C595.2,227.4 596.3,226.1 598.0,224.5 C599.7,222.9 602.1,221.1 603.6,219.7 C605.1,218.3 606.1,217.2 607.0,216.0 C607.9,214.8 608.2,215.0 608.7,212.7 C609.2,210.4 609.9,204.8 610.0,202.0 C610.1,199.2 609.7,197.7 609.5,196.0 C609.3,194.3 608.8,192.5 608.7,191.8 C608.2,191.8 608.8,192.6 606.0,191.8 C603.2,191.0 596.2,189.5 592.0,187.0 C587.8,184.5 583.7,181.0 581.0,177.0 C578.3,173.0 576.8,167.7 576.0,163.0 C575.2,158.3 575.0,153.8 576.0,149.0 C577.0,144.2 579.3,138.7 582.0,134.0 C584.7,129.3 587.7,124.9 592.0,121.0 C596.3,117.1 601.9,112.8 608.0,110.5 C614.1,108.2 625.2,107.6 628.7,107.0 Z" fill="url(#gPeri)" fill-opacity="0.74" stroke="#3e8a9a" stroke-width="0.7"/>
<!-- inner circles in pericardial cavity -->
<circle cx="618.9" cy="148.5" r="12.7" fill="#b6d6e4" fill-opacity="0.5" stroke="#9cc8d6" stroke-width="0.4"/>
<circle cx="667" cy="147" r="11" fill="#a9cfe0" fill-opacity="0.5" stroke="#9cc8d6" stroke-width="0.3"/>
<path d="M629.6,109.4 L655.8,109 L657,150 L658.3,174 C657.5,177 655,180 649.4,184 C643,188 636,190.5 629,191.8 Z" fill="#dc9388" fill-opacity="0.42"/>
<!-- inner canal edge lines -->
<path d="M609.2,160 C609.6,175 609.4,190 608,205 C606.5,214 600,222 590,229" fill="none" stroke="#5aa0b0" stroke-width="0.6"/>
<path d="M591,229.3 C596,227.5 601,226.8 606,226.7 C612,226.3 618,226.3 624,226.7" fill="none" stroke="#3e8a9a" stroke-width="0.7"/>
<!-- inner ring line of peritoneal -->
<path d="M595.2,231.4 C596.2,230.9 598.2,229.1 601.0,228.7 C603.8,228.3 608.5,228.6 612.0,229.0 C615.5,229.4 618.5,230.4 622.0,231.0 C625.5,231.6 629.5,231.6 633.0,232.5 C636.5,233.4 640.1,234.8 643.0,236.5 C645.9,238.2 648.3,240.1 650.5,242.5 C652.7,244.9 654.6,247.6 656.3,251.0 C658.0,254.4 659.4,258.8 660.5,263.0 C661.6,267.2 662.3,270.7 662.8,276.0 C663.3,281.3 663.4,288.7 663.6,295.0 C663.8,301.3 663.9,306.5 664.0,314.0 C664.1,321.5 664.2,333.2 664.0,339.8 C663.8,346.4 663.5,346.8 662.6,353.5 C661.7,360.2 659.7,373.2 658.8,380.0 C657.9,386.8 657.9,389.4 657.0,394.0 C656.1,398.6 655.0,403.7 653.2,407.3 C651.5,410.9 648.9,414.2 646.5,415.8 C644.1,417.4 640.2,416.7 639.0,416.9" fill="none" stroke="#ffffff" stroke-opacity="0.5" stroke-width="1.2"/>
<path d="M601.0,404.0 C600.7,403.2 600.3,402.4 599.3,399.3 C598.3,396.2 596.7,390.5 595.2,385.2 C593.7,379.9 591.8,373.5 590.5,367.6 C589.2,361.7 588.4,357.9 587.6,350.0 C586.9,342.1 586.4,330.8 586.0,320.0 C585.6,309.2 585.4,294.7 585.2,285.0 C585.0,275.3 584.5,268.5 584.7,262.0 C584.9,255.5 585.4,250.3 586.2,246.0 C587.0,241.7 587.9,238.4 589.4,236.0 C590.9,233.6 594.2,232.2 595.2,231.4" fill="none" stroke="#4f95a5" stroke-width="0.5"/>
<path d="M595.5,232.5 C596.4,232.2 598.6,230.8 601.0,230.5 C603.4,230.2 606.6,230.4 610.0,231.0 C613.4,231.6 617.7,233.2 621.4,234.0 C625.1,234.8 628.6,234.8 632.0,235.5 C635.4,236.2 639.0,236.8 641.8,238.0 C644.6,239.2 646.9,240.8 649.0,243.0 C651.1,245.2 652.9,247.7 654.5,251.0 C656.1,254.3 657.4,258.8 658.5,263.0 C659.6,267.2 660.3,270.7 660.9,276.0 C661.5,281.3 661.8,288.7 662.0,295.0 C662.2,301.3 662.3,306.5 662.4,314.0 C662.5,321.5 662.6,333.2 662.4,339.8 C662.2,346.4 662.0,346.8 661.1,353.5 C660.2,360.2 657.7,373.2 656.7,380.0 C655.7,386.8 655.8,389.6 654.9,394.0 C654.0,398.4 653.0,403.0 651.4,406.4 C649.8,409.8 647.4,412.8 645.2,414.3 C643.0,415.8 640.1,415.9 638.2,415.2 C636.3,414.5 635.0,412.1 633.8,410.0 C632.6,407.9 631.8,405.3 631.1,402.9 C630.4,400.5 629.7,397.0 629.4,395.8 C627.8,396.2 622.9,397.6 620.0,398.0 C617.1,398.4 614.8,397.9 612.0,398.5 C609.2,399.1 604.5,401.0 603.0,401.5 C602.5,401.1 601.2,401.9 600.0,399.3 C598.8,396.7 597.4,391.2 596.0,386.0 C594.6,380.8 592.7,374.0 591.5,368.0 C590.3,362.0 589.4,358.0 588.6,350.0 C587.9,342.0 587.4,330.8 587.0,320.0 C586.6,309.2 586.4,294.7 586.2,285.0 C586.0,275.3 585.8,268.5 586.0,262.0 C586.2,255.5 586.8,250.0 587.5,246.0 C588.2,242.0 589.2,240.2 590.5,238.0 C591.8,235.8 594.7,233.4 595.5,232.5 Z" fill="url(#gPurple)" stroke="#3e8a9a" stroke-width="0.6"/>
<path d="M595.5,232.5 C596.4,232.2 598.6,230.8 601.0,230.5 C603.4,230.2 606.6,230.4 610.0,231.0 C613.4,231.6 617.7,233.2 621.4,234.0 C625.1,234.8 628.6,234.8 632.0,235.5 C635.4,236.2 639.0,236.8 641.8,238.0 C644.6,239.2 646.9,240.8 649.0,243.0 C651.1,245.2 652.9,247.7 654.5,251.0 C656.1,254.3 657.4,258.8 658.5,263.0 C659.6,267.2 660.3,270.7 660.9,276.0 C661.5,281.3 661.8,288.7 662.0,295.0 C662.2,301.3 662.3,306.5 662.4,314.0 C662.5,321.5 662.6,333.2 662.4,339.8 C662.2,346.4 662.0,346.8 661.1,353.5 C660.2,360.2 657.7,373.2 656.7,380.0 C655.7,386.8 655.8,389.6 654.9,394.0 C654.0,398.4 653.0,403.0 651.4,406.4 C649.8,409.8 647.4,412.8 645.2,414.3 C643.0,415.8 640.1,415.9 638.2,415.2 C636.3,414.5 635.0,412.1 633.8,410.0 C632.6,407.9 631.8,405.3 631.1,402.9 C630.4,400.5 629.7,397.0 629.4,395.8 C627.8,396.2 622.9,397.6 620.0,398.0 C617.1,398.4 614.8,397.9 612.0,398.5 C609.2,399.1 604.5,401.0 603.0,401.5 C602.5,401.1 601.2,401.9 600.0,399.3 C598.8,396.7 597.4,391.2 596.0,386.0 C594.6,380.8 592.7,374.0 591.5,368.0 C590.3,362.0 589.4,358.0 588.6,350.0 C587.9,342.0 587.4,330.8 587.0,320.0 C586.6,309.2 586.4,294.7 586.2,285.0 C586.0,275.3 585.8,268.5 586.0,262.0 C586.2,255.5 586.8,250.0 587.5,246.0 C588.2,242.0 589.2,240.2 590.5,238.0 C591.8,235.8 594.7,233.4 595.5,232.5 Z" fill="url(#gPurpleV)"/>
<path d="M595.5,232.5 C596.4,232.2 598.6,230.8 601.0,230.5 C603.4,230.2 606.6,230.4 610.0,231.0 C613.4,231.6 617.7,233.2 621.4,234.0 C625.1,234.8 628.6,234.8 632.0,235.5 C635.4,236.2 639.0,236.8 641.8,238.0 C644.6,239.2 646.9,240.8 649.0,243.0 C651.1,245.2 652.9,247.7 654.5,251.0 C656.1,254.3 657.4,258.8 658.5,263.0 C659.6,267.2 660.3,270.7 660.9,276.0 C661.5,281.3 661.8,288.7 662.0,295.0 C662.2,301.3 662.3,306.5 662.4,314.0 C662.5,321.5 662.6,333.2 662.4,339.8 C662.2,346.4 662.0,346.8 661.1,353.5 C660.2,360.2 657.7,373.2 656.7,380.0 C655.7,386.8 655.8,389.6 654.9,394.0 C654.0,398.4 653.0,403.0 651.4,406.4 C649.8,409.8 647.4,412.8 645.2,414.3 C643.0,415.8 640.1,415.9 638.2,415.2 C636.3,414.5 635.0,412.1 633.8,410.0 C632.6,407.9 631.8,405.3 631.1,402.9 C630.4,400.5 629.7,397.0 629.4,395.8 C627.8,396.2 622.9,397.6 620.0,398.0 C617.1,398.4 614.8,397.9 612.0,398.5 C609.2,399.1 604.5,401.0 603.0,401.5 C602.5,401.1 601.2,401.9 600.0,399.3 C598.8,396.7 597.4,391.2 596.0,386.0 C594.6,380.8 592.7,374.0 591.5,368.0 C590.3,362.0 589.4,358.0 588.6,350.0 C587.9,342.0 587.4,330.8 587.0,320.0 C586.6,309.2 586.4,294.7 586.2,285.0 C586.0,275.3 585.8,268.5 586.0,262.0 C586.2,255.5 586.8,250.0 587.5,246.0 C588.2,242.0 589.2,240.2 590.5,238.0 C591.8,235.8 594.7,233.4 595.5,232.5 Z" fill="url(#gPurpleD)" clip-path="url(#clipPR)"/>
<path d="M595.5,232.5 C596.4,232.2 598.6,230.8 601.0,230.5 C603.4,230.2 606.6,230.4 610.0,231.0 C613.4,231.6 617.7,233.2 621.4,234.0 C625.1,234.8 628.6,234.8 632.0,235.5 C635.4,236.2 639.0,236.8 641.8,238.0 C644.6,239.2 646.9,240.8 649.0,243.0 C651.1,245.2 652.9,247.7 654.5,251.0 C656.1,254.3 657.4,258.8 658.5,263.0 C659.6,267.2 660.3,270.7 660.9,276.0 C661.5,281.3 661.8,288.7 662.0,295.0 C662.2,301.3 662.3,306.5 662.4,314.0 C662.5,321.5 662.6,333.2 662.4,339.8 C662.2,346.4 662.0,346.8 661.1,353.5 C660.2,360.2 657.7,373.2 656.7,380.0 C655.7,386.8 655.8,389.6 654.9,394.0 C654.0,398.4 653.0,403.0 651.4,406.4 C649.8,409.8 647.4,412.8 645.2,414.3 C643.0,415.8 640.1,415.9 638.2,415.2 C636.3,414.5 635.0,412.1 633.8,410.0 C632.6,407.9 631.8,405.3 631.1,402.9 C630.4,400.5 629.7,397.0 629.4,395.8 C627.8,396.2 622.9,397.6 620.0,398.0 C617.1,398.4 614.8,397.9 612.0,398.5 C609.2,399.1 604.5,401.0 603.0,401.5 C602.5,401.1 601.2,401.9 600.0,399.3 C598.8,396.7 597.4,391.2 596.0,386.0 C594.6,380.8 592.7,374.0 591.5,368.0 C590.3,362.0 589.4,358.0 588.6,350.0 C587.9,342.0 587.4,330.8 587.0,320.0 C586.6,309.2 586.4,294.7 586.2,285.0 C586.0,275.3 585.8,268.5 586.0,262.0 C586.2,255.5 586.8,250.0 587.5,246.0 C588.2,242.0 589.2,240.2 590.5,238.0 C591.8,235.8 594.7,233.4 595.5,232.5 Z" fill="url(#gBlueBL)" clip-path="url(#clipPL)"/>
<!-- highlight on top of purple -->
<path d="M619,239 C624,235.5 631,236 636,240 C631,239 626,239.3 621,241.5 Z" fill="#cfd3ee" opacity="0.75" filter="url(#blur1)"/>
<path d="M631,390 C632.5,386 633.8,390 634.6,397 C635,402 634,404 633,401 Z" fill="#e4ebf6" opacity="0.85" filter="url(#blur1)"/>
<!-- midgut -->
<path d="M600.8,270.0 C600.9,268.0 600.9,261.2 601.5,258.0 C602.1,254.8 603.3,252.3 604.5,250.5 C605.7,248.7 606.6,248.3 608.7,247.3 C610.8,246.3 614.2,244.6 617.0,244.6 C619.8,244.6 622.7,245.6 625.2,247.3 C627.7,249.0 630.4,251.7 632.2,254.9 C634.1,258.1 635.4,262.4 636.3,266.6 C637.2,270.8 637.4,274.4 637.8,280.0 C638.2,285.6 638.3,291.7 638.6,300.0 C638.9,308.3 639.2,321.7 639.4,330.0 C639.6,338.3 639.9,344.1 639.8,350.0 C639.7,355.9 639.4,360.8 638.7,365.3 C638.0,369.8 637.2,373.7 635.7,377.0 C634.2,380.3 632.2,383.4 629.9,385.2 C627.5,387.0 624.4,387.6 621.6,387.6 C618.9,387.6 615.9,386.8 613.4,385.2 C610.9,383.6 608.1,381.1 606.4,378.2 C604.6,375.3 603.8,372.3 602.9,367.6 C602.0,362.9 601.5,357.9 601.1,350.0 C600.8,342.1 600.8,333.3 600.8,320.0 C600.8,306.7 600.8,278.3 600.8,270.0 Z" fill="#b9d0e8" stroke="#b9d0e8" stroke-width="4.6"/>
<path d="M600.8,270.0 C600.9,268.0 600.9,261.2 601.5,258.0 C602.1,254.8 603.3,252.3 604.5,250.5 C605.7,248.7 606.6,248.3 608.7,247.3 C610.8,246.3 614.2,244.6 617.0,244.6 C619.8,244.6 622.7,245.6 625.2,247.3 C627.7,249.0 630.4,251.7 632.2,254.9 C634.1,258.1 635.4,262.4 636.3,266.6 C637.2,270.8 637.4,274.4 637.8,280.0 C638.2,285.6 638.3,291.7 638.6,300.0 C638.9,308.3 639.2,321.7 639.4,330.0 C639.6,338.3 639.9,344.1 639.8,350.0 C639.7,355.9 639.4,360.8 638.7,365.3 C638.0,369.8 637.2,373.7 635.7,377.0 C634.2,380.3 632.2,383.4 629.9,385.2 C627.5,387.0 624.4,387.6 621.6,387.6 C618.9,387.6 615.9,386.8 613.4,385.2 C610.9,383.6 608.1,381.1 606.4,378.2 C604.6,375.3 603.8,372.3 602.9,367.6 C602.0,362.9 601.5,357.9 601.1,350.0 C600.8,342.1 600.8,333.3 600.8,320.0 C600.8,306.7 600.8,278.3 600.8,270.0 Z" fill="none" stroke="#4f95a5" stroke-width="5.4" opacity="0.55"/>
<path d="M600.8,270.0 C600.9,268.0 600.9,261.2 601.5,258.0 C602.1,254.8 603.3,252.3 604.5,250.5 C605.7,248.7 606.6,248.3 608.7,247.3 C610.8,246.3 614.2,244.6 617.0,244.6 C619.8,244.6 622.7,245.6 625.2,247.3 C627.7,249.0 630.4,251.7 632.2,254.9 C634.1,258.1 635.4,262.4 636.3,266.6 C637.2,270.8 637.4,274.4 637.8,280.0 C638.2,285.6 638.3,291.7 638.6,300.0 C638.9,308.3 639.2,321.7 639.4,330.0 C639.6,338.3 639.9,344.1 639.8,350.0 C639.7,355.9 639.4,360.8 638.7,365.3 C638.0,369.8 637.2,373.7 635.7,377.0 C634.2,380.3 632.2,383.4 629.9,385.2 C627.5,387.0 624.4,387.6 621.6,387.6 C618.9,387.6 615.9,386.8 613.4,385.2 C610.9,383.6 608.1,381.1 606.4,378.2 C604.6,375.3 603.8,372.3 602.9,367.6 C602.0,362.9 601.5,357.9 601.1,350.0 C600.8,342.1 600.8,333.3 600.8,320.0 C600.8,306.7 600.8,278.3 600.8,270.0 Z" fill="#b9d0e8" stroke="#b9d0e8" stroke-width="4.2"/>
<path d="M600.8,270.0 C600.9,268.0 600.9,261.2 601.5,258.0 C602.1,254.8 603.3,252.3 604.5,250.5 C605.7,248.7 606.6,248.3 608.7,247.3 C610.8,246.3 614.2,244.6 617.0,244.6 C619.8,244.6 622.7,245.6 625.2,247.3 C627.7,249.0 630.4,251.7 632.2,254.9 C634.1,258.1 635.4,262.4 636.3,266.6 C637.2,270.8 637.4,274.4 637.8,280.0 C638.2,285.6 638.3,291.7 638.6,300.0 C638.9,308.3 639.2,321.7 639.4,330.0 C639.6,338.3 639.9,344.1 639.8,350.0 C639.7,355.9 639.4,360.8 638.7,365.3 C638.0,369.8 637.2,373.7 635.7,377.0 C634.2,380.3 632.2,383.4 629.9,385.2 C627.5,387.0 624.4,387.6 621.6,387.6 C618.9,387.6 615.9,386.8 613.4,385.2 C610.9,383.6 608.1,381.1 606.4,378.2 C604.6,375.3 603.8,372.3 602.9,367.6 C602.0,362.9 601.5,357.9 601.1,350.0 C600.8,342.1 600.8,333.3 600.8,320.0 C600.8,306.7 600.8,278.3 600.8,270.0 Z" fill="url(#gRedMid)" stroke="#f57c72" stroke-width="1.2"/>
<clipPath id="clipMg"><path d="M600.8,270.0 C600.9,268.0 600.9,261.2 601.5,258.0 C602.1,254.8 603.3,252.3 604.5,250.5 C605.7,248.7 606.6,248.3 608.7,247.3 C610.8,246.3 614.2,244.6 617.0,244.6 C619.8,244.6 622.7,245.6 625.2,247.3 C627.7,249.0 630.4,251.7 632.2,254.9 C634.1,258.1 635.4,262.4 636.3,266.6 C637.2,270.8 637.4,274.4 637.8,280.0 C638.2,285.6 638.3,291.7 638.6,300.0 C638.9,308.3 639.2,321.7 639.4,330.0 C639.6,338.3 639.9,344.1 639.8,350.0 C639.7,355.9 639.4,360.8 638.7,365.3 C638.0,369.8 637.2,373.7 635.7,377.0 C634.2,380.3 632.2,383.4 629.9,385.2 C627.5,387.0 624.4,387.6 621.6,387.6 C618.9,387.6 615.9,386.8 613.4,385.2 C610.9,383.6 608.1,381.1 606.4,378.2 C604.6,375.3 603.8,372.3 602.9,367.6 C602.0,362.9 601.5,357.9 601.1,350.0 C600.8,342.1 600.8,333.3 600.8,320.0 C600.8,306.7 600.8,278.3 600.8,270.0 Z"/></clipPath>
<g clip-path="url(#clipMg)">
<path d="M600,262 C602,250 610,244 617,244 C626,244 634,252 637,266 L640,300 C630,270 620,258 610,258 C605,258 602,260 600,262 Z" fill="#b4302a" opacity="0.75" filter="url(#blur2)"/>
</g>
</g>
<g id="figB3">
<!-- pharynx opening -->
<ellipse cx="605.4" cy="100.4" rx="17.9" ry="12" transform="rotate(6 605.4 100.4)" fill="#f26a60" stroke="#b4362d" stroke-width="0.6"/>
<linearGradient id="gPhIn" x1="0" y1="0" x2="0" y2="1"><stop offset="0" stop-color="#b32a24"/><stop offset="0.45" stop-color="#d2403a"/><stop offset="1" stop-color="#ea5a50"/></linearGradient>
<ellipse cx="605.3" cy="100.6" rx="14.5" ry="8.4" transform="rotate(6 605.3 100.6)" fill="url(#gPhIn)" stroke="#b4362d" stroke-width="0.4"/>
<!-- hindgut -->
<linearGradient id="gHind" x1="0" y1="0" x2="1" y2="0"><stop offset="0" stop-color="#e9564d"/><stop offset="0.3" stop-color="#f2665c"/><stop offset="0.55" stop-color="#d9463d"/><stop offset="0.75" stop-color="#ee6056"/><stop offset="1" stop-color="#d0403a"/></linearGradient>
<path d="M602.1,404.5 C601.2,404.9 598.8,406.1 597.0,407.2 C595.2,408.3 593.0,409.7 591.3,411.3 C589.6,412.9 588.3,415.0 587.0,417.0 C585.7,419.0 584.7,420.9 583.5,423.1 C582.3,425.3 581.1,427.7 580.0,430.0 C578.9,432.3 577.6,434.9 576.6,436.8 C575.6,438.7 574.6,440.1 574.0,441.5 C573.4,442.9 572.9,444.4 572.7,445.0 C572.8,445.3 573.0,446.3 573.3,446.6 C573.6,446.9 573.6,447.0 574.7,446.6 C575.8,446.2 578.2,445.0 580.0,444.0 C581.8,443.0 583.4,442.0 585.5,440.7 C587.6,439.4 590.2,437.6 592.5,436.0 C594.8,434.4 597.1,432.5 599.2,430.9 C601.3,429.3 603.0,427.9 605.0,426.4 C607.0,424.9 609.2,423.1 610.9,422.1 C612.6,421.1 613.7,420.9 615.0,420.6 C616.3,420.3 617.6,420.1 618.7,420.1 C619.8,420.1 620.8,420.3 621.5,420.6 C622.2,420.9 622.6,421.5 622.7,422.1 C622.8,422.7 622.6,423.7 622.3,424.3 C622.0,424.9 621.0,425.7 620.7,426.0 C619.8,426.7 617.1,428.7 615.5,430.2 C613.9,431.7 612.2,433.2 610.9,434.8 C609.6,436.4 608.6,438.2 607.8,439.8 C607.0,441.4 606.2,443.1 606.0,444.6 C605.8,446.1 606.0,447.5 606.3,448.8 C606.6,450.1 607.2,451.4 608.0,452.4 C608.8,453.4 609.9,454.3 611.0,455.0 C612.1,455.7 613.5,456.2 614.8,456.4 C616.1,456.6 617.5,456.6 618.8,456.4 C620.1,456.2 621.5,456.1 622.7,455.4 C623.9,454.7 624.8,453.3 625.8,452.2 C626.8,451.1 627.2,450.1 628.5,448.5 C629.8,446.9 631.9,444.6 633.5,442.6 C635.1,440.7 636.8,438.5 638.3,436.8 C639.8,435.1 641.2,433.7 642.5,432.2 C643.8,430.7 645.6,428.7 646.2,428.0 C645.9,427.4 645.2,425.5 644.5,424.4 C643.8,423.2 643.1,422.4 642.2,421.1 C641.3,419.8 640.1,418.1 639.0,416.6 C637.9,415.1 636.7,413.6 635.4,412.3 C634.1,411.0 632.5,409.7 631.0,408.6 C629.5,407.5 628.1,406.4 626.6,405.5 C625.1,404.6 623.4,403.9 621.8,403.3 C620.2,402.7 618.5,402.1 616.8,401.9 C615.1,401.6 613.4,401.7 611.8,401.8 C610.2,401.9 608.6,402.1 607.0,402.5 C605.4,402.9 602.9,404.2 602.1,404.5 Z" fill="url(#gHind)" stroke="#b83a30" stroke-width="0.6"/>
<path d="M622,422 C618,426 613.5,430.5 610.5,435.5 C608.5,440 607.8,444 608.5,448" fill="none" stroke="#b6302a" stroke-width="2.5" filter="url(#blur1)" opacity="0.6"/>
<path d="M617,402.3 C621.5,402.8 626,404.8 630,408.2" fill="none" stroke="#e6eef2" stroke-width="1.3" opacity="0.9"/>
<!-- L1 tip over hindgut -->
<path d="M635.4,412.3 C639,416.6 642.2,421.1 644.5,424.4 L646.2,428 L643.5,424.9 L639,417.9 Z" fill="#b9dbe9" fill-opacity="0.6"/>
</g>
<!--FIGB3-->

<g id="leaders">
<path class="ld" d="M301.6,48.6 L265.4,48.6 L219.6,90.3"/>
<path class="ld" d="M383.8,92.3 L268,92.3 L151,109.4"/>
<path class="ld" d="M421.2,92.3 L636.3,92.3"/>
<path class="ld" d="M66.7,117.3 L105.6,117.3"/>
<path class="ld" d="M31,147.8 L87.8,147.8 L109.4,128"/>
<path class="ld" d="M348.2,200 L215.8,200"/>
<path class="ld" d="M455,200.2 L618.9,200.2"/>
<path class="ld" d="M324.5,237.4 L287.6,237.4 L215.8,248.3"/>
<path class="ld" d="M478.2,237 L606.7,237 L611,233.2"/>
<path class="ld" d="M51.3,235.2 L128.2,235.2 M140.9,229.5 L128.2,229.5 L128.2,241.3 L151.7,241.3"/>
<path class="ld" d="M301.6,273.6 L250,273.6"/>
<path class="ld" d="M385.6,300.5 L212,300.5"/>
<path class="ld" d="M417.9,300.5 L625.4,300.5"/>
<path class="ld" d="M301.6,333.5 L243.8,333.5 L229.8,319"/>
<path class="ld" d="M301,425.4 L117,425.4"/>
<path class="ld" d="M546.9,144.2 L590.1,144.2"/>
<path class="ld" d="M739,208.2 L639.4,208.2"/>
<path class="ld" d="M739,265 L695.7,265"/>
<path class="ld" d="M533.8,318.5 L575.3,318.5 M597.4,314.4 L575.3,314.4 L575.3,323.1 L601.2,323.1"/>
<path class="ld" d="M546,379.8 L597.9,379.8"/>
<path class="ld" d="M739,421.2 L646.9,421.2"/>
</g>

<g id="labels" opacity="0.99">
<text class="hd" x="0.8" y="9.2" textLength="7.1" lengthAdjust="spacingAndGlyphs">A</text>
<text class="hd" x="460.6" y="9.2" textLength="6.3" lengthAdjust="spacingAndGlyphs">B</text>
<text class="lb" x="304.7" y="51.6" textLength="43.5" lengthAdjust="spacingAndGlyphs">Neural tube</text>
<text class="lb" x="386.4" y="95.4" textLength="31.8" lengthAdjust="spacingAndGlyphs">Pharynx</text>
<text class="lb" x="1.3" y="119.8" textLength="62.3" lengthAdjust="spacingAndGlyphs">Pericardial cavity</text>
<text class="lb" x="1.3" y="150.4" textLength="28.0" lengthAdjust="spacingAndGlyphs">Amnion</text>
<text class="lb" x="350.7" y="202.6" textLength="101.6" lengthAdjust="spacingAndGlyphs">Pericardio-peritoneal canal</text>
<text class="lb" x="328.9" y="240.0" textLength="146.5" lengthAdjust="spacingAndGlyphs">Entrance to pericardio-peritoneal canal</text>
<text class="lb" x="1.6" y="237.9" textLength="47.3" lengthAdjust="spacingAndGlyphs">Yolk sac wall</text>
<text class="lb" x="304.7" y="276.4" textLength="26.2" lengthAdjust="spacingAndGlyphs">Somite</text>
<text class="lb" x="389.9" y="302.9" textLength="25.0" lengthAdjust="spacingAndGlyphs">Midgut</text>
<text class="lb" x="304.7" y="336.0" textLength="67.4" lengthAdjust="spacingAndGlyphs">Left umbilical vein</text>
<text class="lb" x="304.2" y="429.7" textLength="53.7" lengthAdjust="spacingAndGlyphs">Umbilical cord</text>
<text class="lb" x="482.5" y="146.5" textLength="63.9" lengthAdjust="spacingAndGlyphs">Pericardial cavity</text>
<text class="lb" x="742.7" y="211.2" textLength="29.0" lengthAdjust="spacingAndGlyphs">Foregut</text>
<text class="lb" x="742.7" y="267.8" textLength="43.8" lengthAdjust="spacingAndGlyphs">Neural tube</text>
<text class="lb" x="482.9" y="321.3" textLength="47.1" lengthAdjust="spacingAndGlyphs">Yolk sac wall</text>
<text class="lb" x="482.9" y="382.1" textLength="61.6" lengthAdjust="spacingAndGlyphs">Peritoneal cavity</text>
<text class="lb" x="742.7" y="423.4" textLength="29.4" lengthAdjust="spacingAndGlyphs">Hindgut</text>
<text class="cap" x="253.4" y="506.6" textLength="286.3" lengthAdjust="spacingAndGlyphs">© Elsevier Ltd 2005. Standring: Gray's Anatomy 39e</text>
</g>
</svg>
</body>
</html>
